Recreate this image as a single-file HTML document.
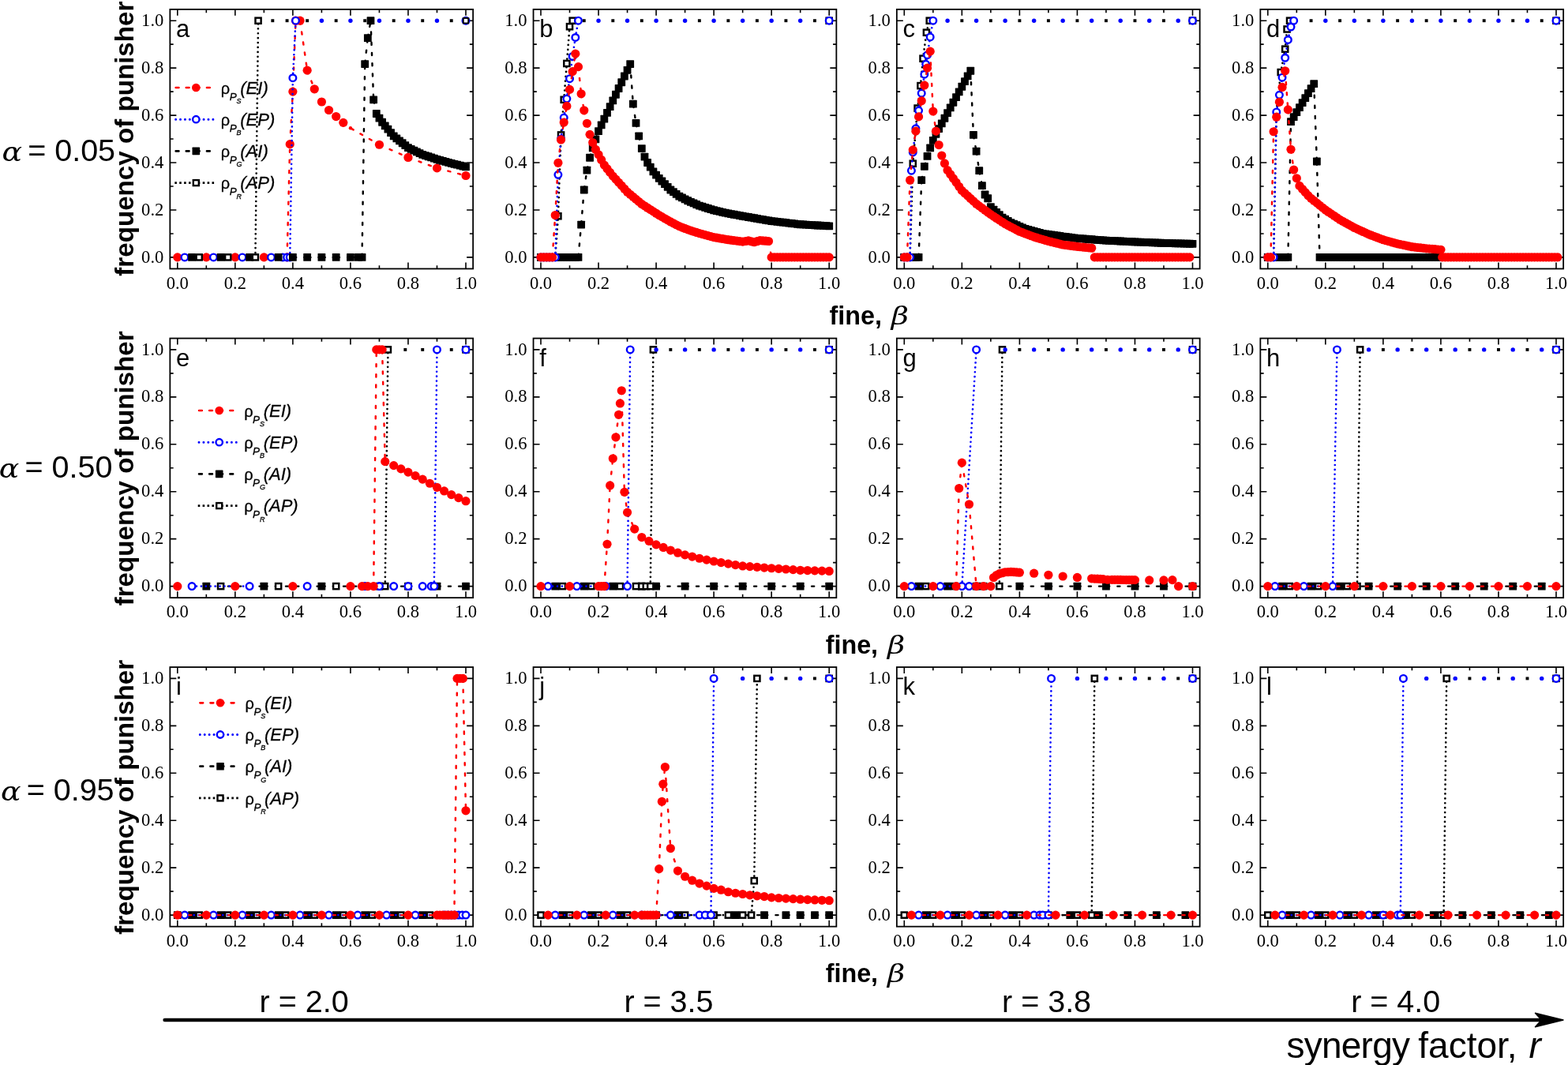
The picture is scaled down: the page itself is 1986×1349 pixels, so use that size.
<!DOCTYPE html>
<html lang="en"><head><meta charset="utf-8"><title>Frequency of punisher versus fine</title>
<style>
html,body{margin:0;padding:0;background:#fff}
body{width:1986px;height:1349px;overflow:hidden}
svg{display:block}
text{fill:#000}
.tk text{font-family:"Liberation Serif","DejaVu Serif",serif;font-size:22.6px}
.pl{font-family:"Liberation Sans","DejaVu Sans",sans-serif;font-size:31px}
.big{font-family:"Liberation Sans","DejaVu Sans",sans-serif;font-size:39.5px;white-space:pre}
.gi{font-family:"DejaVu Serif","Liberation Serif",serif;font-style:italic}
.yt{font-family:"Liberation Sans","DejaVu Sans",sans-serif;font-size:33.15px;font-weight:bold}
.xt{font-family:"Liberation Sans","DejaVu Sans",sans-serif;font-size:32.3px;font-weight:bold}
.gb{font-family:"DejaVu Serif","Liberation Serif",serif;font-style:italic;font-weight:normal;font-size:32px}
.syn{font-family:"Liberation Sans","DejaVu Sans",sans-serif;font-size:46px}
.lg{font-family:"Liberation Sans","DejaVu Sans",sans-serif;font-size:22px;stroke:#000;stroke-width:0.3px}
.lg .rho{font-size:20px}
.lg .s1{font-size:13.5px;font-style:italic}
.lg .s2{font-size:9px;font-style:italic}
.lg .it{font-style:italic}
</style></head><body>
<svg width="1986" height="1349" viewBox="0 0 1986 1349" role="img" aria-label="Frequency of punisher versus fine for twelve parameter combinations">
<rect width="1986" height="1349" fill="#fff"/>
<g id="p-a">
<path d="M224.8 11.85v8M224.8 340.45v-8M215.35 325.9h8M599.15 325.9h-8M261.32 11.85v4.3M261.32 340.45v-4.3M215.35 295.93h4.3M599.15 295.93h-4.3M297.84 11.85v8M297.84 340.45v-8M215.35 265.96h8M599.15 265.96h-8M334.36 11.85v4.3M334.36 340.45v-4.3M215.35 235.99h4.3M599.15 235.99h-4.3M370.88 11.85v8M370.88 340.45v-8M215.35 206.02h8M599.15 206.02h-8M407.4 11.85v4.3M407.4 340.45v-4.3M215.35 176.05h4.3M599.15 176.05h-4.3M443.92 11.85v8M443.92 340.45v-8M215.35 146.08h8M599.15 146.08h-8M480.44 11.85v4.3M480.44 340.45v-4.3M215.35 116.11h4.3M599.15 116.11h-4.3M516.96 11.85v8M516.96 340.45v-8M215.35 86.14h8M599.15 86.14h-8M553.48 11.85v4.3M553.48 340.45v-4.3M215.35 56.17h4.3M599.15 56.17h-4.3M590 11.85v8M590 340.45v-8M215.35 26.2h8M599.15 26.2h-8" fill="none" stroke="#000" stroke-width="1.6"/>
<rect x="215.35" y="11.85" width="383.8" height="328.6" fill="none" stroke="#000" stroke-width="1.8"/>
<path d="M363.58 325.9L367.23 182.64M367.23 182.64L370.88 116.11M370.88 116.11L374.53 26.2M380.01 26.2L389.14 89.14M389.14 89.14L398.27 112.81M398.27 112.81L407.4 129M407.4 129L416.53 139.49M416.53 139.49L425.66 147.58M425.66 147.58L434.79 155.37M434.79 155.37L443.92 162.26M443.92 162.26L480.44 183.24M480.44 183.24L516.96 199.43M516.96 199.43L553.48 212.91M553.48 212.91L590 222.5" fill="none" stroke="#ff0000" stroke-width="2.45" stroke-linecap="round" stroke-dasharray="3.1 10.1" stroke-dashoffset="-1.2"/>
<g fill="#ff0000">
<circle cx="224.8" cy="325.9" r="5.6"/>
<circle cx="261.32" cy="325.9" r="5.6"/>
<circle cx="297.84" cy="325.9" r="5.6"/>
<circle cx="334.36" cy="325.9" r="5.6"/>
<circle cx="363.58" cy="325.9" r="5.6"/>
<circle cx="367.23" cy="182.64" r="5.6"/>
<circle cx="370.88" cy="116.11" r="5.6"/>
<circle cx="374.53" cy="26.2" r="5.6"/>
<circle cx="380.01" cy="26.2" r="5.6"/>
<circle cx="389.14" cy="89.14" r="5.6"/>
<circle cx="398.27" cy="112.81" r="5.6"/>
<circle cx="407.4" cy="129" r="5.6"/>
<circle cx="416.53" cy="139.49" r="5.6"/>
<circle cx="425.66" cy="147.58" r="5.6"/>
<circle cx="434.79" cy="155.37" r="5.6"/>
<circle cx="480.44" cy="183.24" r="5.6"/>
<circle cx="516.96" cy="199.43" r="5.6"/>
<circle cx="553.48" cy="212.91" r="5.6"/>
<circle cx="590" cy="222.5" r="5.6"/>
</g>
<circle cx="443.92" cy="162.26" r="2.2" fill="#ff0000"/>
<path d="M367.23 325.9L370.88 98.73M370.88 98.73L374.53 26.2" fill="none" stroke="#0000ff" stroke-width="2.65" stroke-linecap="round" stroke-dasharray="0.01 5.9"/>
<g fill="#fff" stroke="#0000ff" stroke-width="2.4">
<circle cx="233.93" cy="325.9" r="4.3"/>
<circle cx="270.45" cy="325.9" r="4.3"/>
<circle cx="306.97" cy="325.9" r="4.3"/>
<circle cx="343.49" cy="325.9" r="4.3"/>
<circle cx="358.1" cy="325.9" r="4.3"/>
<circle cx="363.58" cy="325.9" r="4.3"/>
<circle cx="367.23" cy="325.9" r="4.3"/>
<circle cx="370.88" cy="98.73" r="4.3"/>
<circle cx="374.53" cy="26.2" r="4.3"/>
<circle cx="590" cy="26.2" r="4.3"/>
</g>
<g fill="#0000ff">
<circle cx="407.4" cy="26.2" r="2.7"/>
<circle cx="443.92" cy="26.2" r="2.7"/>
<circle cx="480.44" cy="26.2" r="2.7"/>
<circle cx="516.96" cy="26.2" r="2.7"/>
<circle cx="553.48" cy="26.2" r="2.7"/>
</g>
<path d="M370.88 325.9L389.14 325.9M389.14 325.9L407.4 325.9M407.4 325.9L425.66 325.9M425.66 325.9L443.92 325.9M443.92 325.9L453.78 325.9M453.78 325.9L458.53 325.9M458.53 325.9L462.18 81.05M462.18 81.05L465.83 48.08M465.83 48.08L469.48 26.2M469.48 26.2L473.14 126.3M473.14 126.3L476.79 143.98M476.79 143.98L480.44 149.68M480.44 149.68L484.09 154.74M484.09 154.74L487.74 159.33M487.74 159.33L491.4 163.7M491.4 163.7L495.05 168.08M495.05 168.08L498.7 172.45M498.7 172.45L502.35 175.39M502.35 175.39L506 178.33M506 178.33L509.66 181.26M509.66 181.26L513.31 184.2M513.31 184.2L516.96 187.14M516.96 187.14L520.61 188.88M520.61 188.88L524.26 190.62M524.26 190.62L527.92 192.35M527.92 192.35L531.57 194.09M531.57 194.09L535.22 195.83M535.22 195.83L538.87 197.03M538.87 197.03L542.52 198.23M542.52 198.23L546.18 199.43M546.18 199.43L549.83 200.63M549.83 200.63L553.48 201.82M553.48 201.82L557.13 202.84M557.13 202.84L560.78 203.86M560.78 203.86L564.44 204.88M564.44 204.88L568.09 205.9M568.09 205.9L571.74 206.92M571.74 206.92L575.39 207.82M575.39 207.82L579.04 208.72M579.04 208.72L582.7 209.62M582.7 209.62L586.35 210.52M586.35 210.52L590 211.41" fill="none" stroke="#000000" stroke-width="2.45" stroke-linecap="round" stroke-dasharray="3.1 10.1" stroke-dashoffset="-1.2"/>
<g fill="#000000">
<rect x="238.16" y="321" width="9.8" height="9.8" rx="0.6"/>
<rect x="274.68" y="321" width="9.8" height="9.8" rx="0.6"/>
<rect x="311.2" y="321" width="9.8" height="9.8" rx="0.6"/>
<rect x="347.72" y="321" width="9.8" height="9.8" rx="0.6"/>
<rect x="365.98" y="321" width="9.8" height="9.8" rx="0.6"/>
<rect x="384.24" y="321" width="9.8" height="9.8" rx="0.6"/>
<rect x="402.5" y="321" width="9.8" height="9.8" rx="0.6"/>
<rect x="420.76" y="321" width="9.8" height="9.8" rx="0.6"/>
<rect x="439.02" y="321" width="9.8" height="9.8" rx="0.6"/>
<rect x="448.88" y="321" width="9.8" height="9.8" rx="0.6"/>
<rect x="453.63" y="321" width="9.8" height="9.8" rx="0.6"/>
<rect x="457.28" y="76.15" width="9.8" height="9.8" rx="0.6"/>
<rect x="460.93" y="43.18" width="9.8" height="9.8" rx="0.6"/>
<rect x="464.58" y="21.3" width="9.8" height="9.8" rx="0.6"/>
<rect x="468.24" y="121.4" width="9.8" height="9.8" rx="0.6"/>
<rect x="471.89" y="139.08" width="9.8" height="9.8" rx="0.6"/>
<rect x="475.54" y="144.78" width="9.8" height="9.8" rx="0.6"/>
<rect x="479.19" y="149.84" width="9.8" height="9.8" rx="0.6"/>
<rect x="482.84" y="154.43" width="9.8" height="9.8" rx="0.6"/>
<rect x="486.5" y="158.8" width="9.8" height="9.8" rx="0.6"/>
<rect x="490.15" y="163.18" width="9.8" height="9.8" rx="0.6"/>
<rect x="493.8" y="167.55" width="9.8" height="9.8" rx="0.6"/>
<rect x="497.45" y="170.49" width="9.8" height="9.8" rx="0.6"/>
<rect x="501.1" y="173.43" width="9.8" height="9.8" rx="0.6"/>
<rect x="504.76" y="176.36" width="9.8" height="9.8" rx="0.6"/>
<rect x="508.41" y="179.3" width="9.8" height="9.8" rx="0.6"/>
<rect x="512.06" y="182.24" width="9.8" height="9.8" rx="0.6"/>
<rect x="515.71" y="183.98" width="9.8" height="9.8" rx="0.6"/>
<rect x="519.36" y="185.72" width="9.8" height="9.8" rx="0.6"/>
<rect x="523.02" y="187.45" width="9.8" height="9.8" rx="0.6"/>
<rect x="526.67" y="189.19" width="9.8" height="9.8" rx="0.6"/>
<rect x="530.32" y="190.93" width="9.8" height="9.8" rx="0.6"/>
<rect x="533.97" y="192.13" width="9.8" height="9.8" rx="0.6"/>
<rect x="537.62" y="193.33" width="9.8" height="9.8" rx="0.6"/>
<rect x="541.28" y="194.53" width="9.8" height="9.8" rx="0.6"/>
<rect x="544.93" y="195.73" width="9.8" height="9.8" rx="0.6"/>
<rect x="548.58" y="196.92" width="9.8" height="9.8" rx="0.6"/>
<rect x="552.23" y="197.94" width="9.8" height="9.8" rx="0.6"/>
<rect x="555.88" y="198.96" width="9.8" height="9.8" rx="0.6"/>
<rect x="559.54" y="199.98" width="9.8" height="9.8" rx="0.6"/>
<rect x="563.19" y="201" width="9.8" height="9.8" rx="0.6"/>
<rect x="566.84" y="202.02" width="9.8" height="9.8" rx="0.6"/>
<rect x="570.49" y="202.92" width="9.8" height="9.8" rx="0.6"/>
<rect x="574.14" y="203.82" width="9.8" height="9.8" rx="0.6"/>
<rect x="577.8" y="204.72" width="9.8" height="9.8" rx="0.6"/>
<rect x="581.45" y="205.62" width="9.8" height="9.8" rx="0.6"/>
<rect x="585.1" y="206.51" width="9.8" height="9.8" rx="0.6"/>
</g>
<path d="M323.4 325.9L327.06 26.2" fill="none" stroke="#000000" stroke-width="2.7" stroke-linecap="round" stroke-dasharray="0.01 5.9"/>
<g fill="#fff" stroke="#000000" stroke-width="2.45">
<rect x="248.62" y="322.32" width="7.15" height="7.15"/>
<rect x="285.14" y="322.32" width="7.15" height="7.15"/>
<rect x="319.83" y="322.32" width="7.15" height="7.15"/>
<rect x="323.48" y="22.62" width="7.15" height="7.15"/>
</g>
<rect x="586.75" y="22.95" width="6.5" height="6.5" fill="none" stroke="#000000" stroke-width="1.9"/>
<g fill="#000000">
<rect x="343.37" y="24.25" width="3.9" height="3.9"/>
<rect x="361.63" y="24.25" width="3.9" height="3.9"/>
<rect x="387.19" y="24.25" width="3.9" height="3.9"/>
<rect x="423.71" y="24.25" width="3.9" height="3.9"/>
<rect x="460.23" y="24.25" width="3.9" height="3.9"/>
<rect x="496.75" y="24.25" width="3.9" height="3.9"/>
<rect x="533.27" y="24.25" width="3.9" height="3.9"/>
<rect x="569.79" y="24.25" width="3.9" height="3.9"/>
</g>
<g class="tk" text-anchor="middle">
<text x="224.8" y="365.5">0.0</text>
<text x="297.84" y="365.5">0.2</text>
<text x="370.88" y="365.5">0.4</text>
<text x="443.92" y="365.5">0.6</text>
<text x="516.96" y="365.5">0.8</text>
<text x="590" y="365.5">1.0</text>
</g>
<g class="tk" text-anchor="end">
<text x="207.35" y="332.5">0.0</text>
<text x="207.35" y="272.56">0.2</text>
<text x="207.35" y="212.62">0.4</text>
<text x="207.35" y="152.68">0.6</text>
<text x="207.35" y="92.74">0.8</text>
<text x="207.35" y="32.8">1.0</text>
</g>
<text class="pl" x="222.95" y="47">a</text>
<path d="M222.7 111H268.8" fill="none" stroke="#ff0000" stroke-width="2.7" stroke-linecap="round" stroke-dasharray="3.7 9.4"/>
<circle cx="248.3" cy="111" r="5.3" fill="#ff0000"/>
<text class="lg" x="279.8" y="118.7"><tspan class="rho">ρ</tspan><tspan class="s1" x="290.7" y="126.7">P</tspan><tspan class="s2" x="299.5" y="130.9">S</tspan><tspan class="it" x="304.3" y="118.7">(EI)</tspan></text>
<path d="M222.6 151.2H272.8" fill="none" stroke="#0000ff" stroke-width="3" stroke-linecap="round" stroke-dasharray="0.01 5.9"/>
<circle cx="248.3" cy="151.2" r="4.2" fill="#fff" stroke="#0000ff" stroke-width="2.4"/>
<text class="lg" x="279.8" y="158.9"><tspan class="rho">ρ</tspan><tspan class="s1" x="290.7" y="166.9">P</tspan><tspan class="s2" x="299.5" y="171.1">B</tspan><tspan class="it" x="304.3" y="158.9">(EP)</tspan></text>
<path d="M222.7 191.4H268.8" fill="none" stroke="#000000" stroke-width="2.7" stroke-linecap="round" stroke-dasharray="3.7 9.4"/>
<rect x="243.5" y="186.6" width="9.6" height="9.6" rx="0.6" fill="#000000"/>
<text class="lg" x="279.8" y="199.1"><tspan class="rho">ρ</tspan><tspan class="s1" x="290.7" y="207.1">P</tspan><tspan class="s2" x="299.5" y="211.3">G</tspan><tspan class="it" x="304.3" y="199.1">(AI)</tspan></text>
<path d="M221.3 231.6H272.8" fill="none" stroke="#000000" stroke-width="2.6" stroke-dasharray="2.6 3.3"/>
<rect x="244.8" y="228.1" width="7" height="7" fill="#fff" stroke="#000000" stroke-width="2.4"/>
<text class="lg" x="279.8" y="239.3"><tspan class="rho">ρ</tspan><tspan class="s1" x="290.7" y="247.3">P</tspan><tspan class="s2" x="299.5" y="251.5">R</tspan><tspan class="it" x="304.3" y="239.3">(AP)</tspan></text>
</g>
<g id="p-b">
<path d="M685 11.85v8M685 340.45v-8M675.55 325.9h8M1059.35 325.9h-8M721.52 11.85v4.3M721.52 340.45v-4.3M675.55 295.93h4.3M1059.35 295.93h-4.3M758.04 11.85v8M758.04 340.45v-8M675.55 265.96h8M1059.35 265.96h-8M794.56 11.85v4.3M794.56 340.45v-4.3M675.55 235.99h4.3M1059.35 235.99h-4.3M831.08 11.85v8M831.08 340.45v-8M675.55 206.02h8M1059.35 206.02h-8M867.6 11.85v4.3M867.6 340.45v-4.3M675.55 176.05h4.3M1059.35 176.05h-4.3M904.12 11.85v8M904.12 340.45v-8M675.55 146.08h8M1059.35 146.08h-8M940.64 11.85v4.3M940.64 340.45v-4.3M675.55 116.11h4.3M1059.35 116.11h-4.3M977.16 11.85v8M977.16 340.45v-8M675.55 86.14h8M1059.35 86.14h-8M1013.68 11.85v4.3M1013.68 340.45v-4.3M675.55 56.17h4.3M1059.35 56.17h-4.3M1050.2 11.85v8M1050.2 340.45v-8M675.55 26.2h8M1059.35 26.2h-8" fill="none" stroke="#000" stroke-width="1.6"/>
<rect x="675.55" y="11.85" width="383.8" height="328.6" fill="none" stroke="#000" stroke-width="1.8"/>
<path d="M685 325.9L688.65 325.9M688.65 325.9L692.3 325.9M692.3 325.9L695.96 325.9M695.96 325.9L699.61 325.9M699.61 325.9L703.26 325.9M703.26 325.9L706.91 325.9M706.91 325.9L710.56 325.9M710.56 325.9L714.22 325.9M714.22 325.9L717.87 325.9M717.87 325.9L721.52 325.9M721.52 325.9L725.17 325.9M725.17 325.9L728.82 325.9M728.82 325.9L732.48 325.9M732.48 325.9L736.13 284.54M736.13 284.54L739.78 240.49M739.78 240.49L743.43 215.61M743.43 215.61L747.08 199.73M747.08 199.73L750.74 187.44M750.74 187.44L754.39 176.35M754.39 176.35L758.04 166.16M758.04 166.16L761.69 158.43M761.69 158.43L765.34 150.7M765.34 150.7L769 142.93M769 142.93L772.65 135.2M772.65 135.2L776.3 127.47M776.3 127.47L779.95 119.74M779.95 119.74L783.6 112M783.6 112L787.26 104.27M787.26 104.27L790.91 96.51M790.91 96.51L794.56 88.78M794.56 88.78L798.21 81.05M798.21 81.05L801.86 131.69M801.86 131.69L805.52 155.97M805.52 155.97L809.17 172.45M809.17 172.45L812.82 188.04M812.82 188.04L816.47 198.53M816.47 198.53L820.12 206.02M820.12 206.02L823.78 211.71M823.78 211.71L827.43 217.41M827.43 217.41L831.08 221.6M831.08 221.6L834.73 225.8M834.73 225.8L838.38 229.49M838.38 229.49L842.04 233.14M842.04 233.14L845.69 236.8M845.69 236.8L849.34 240.49M849.34 240.49L852.99 243.18M852.99 243.18L856.64 245.88M856.64 245.88L860.3 248.58M860.3 248.58L863.95 250.47M863.95 250.47L867.6 252.38M867.6 252.38L871.25 254.27M871.25 254.27L874.9 255.86M874.9 255.86L878.56 257.42M878.56 257.42L882.21 258.98M882.21 258.98L885.86 260.57M885.86 260.57L889.51 261.7M889.51 261.7L893.16 262.84M893.16 262.84L896.82 263.98M896.82 263.98L900.47 265.12M900.47 265.12L904.12 266.26M904.12 266.26L907.77 267.1M907.77 267.1L911.42 267.94M911.42 267.94L915.08 268.78M915.08 268.78L918.73 269.62M918.73 269.62L922.38 270.46M922.38 270.46L926.03 271.11M926.03 271.11L929.68 271.77M929.68 271.77L933.34 272.43M933.34 272.43L936.99 273.09M936.99 273.09L940.64 273.75M940.64 273.75L944.29 274.38M944.29 274.38L947.94 275.01M947.94 275.01L951.6 275.64M951.6 275.64L955.25 276.27M955.25 276.27L958.9 276.9M958.9 276.9L962.55 277.53M962.55 277.53L966.2 278.16M966.2 278.16L969.86 278.79M969.86 278.79L973.51 279.42M973.51 279.42L977.16 280.05M977.16 280.05L980.81 280.47M980.81 280.47L984.46 280.89M984.46 280.89L988.12 281.3M988.12 281.3L991.77 281.72M991.77 281.72L995.42 282.14M995.42 282.14L999.07 282.56M999.07 282.56L1002.72 282.98M1002.72 282.98L1006.38 283.4M1006.38 283.4L1010.03 283.82M1010.03 283.82L1013.68 284.24M1013.68 284.24L1017.33 284.45M1017.33 284.45L1020.98 284.66M1020.98 284.66L1024.64 284.87M1024.64 284.87L1028.29 285.08M1028.29 285.08L1031.94 285.29M1031.94 285.29L1035.59 285.5M1035.59 285.5L1039.24 285.71M1039.24 285.71L1042.9 285.92M1042.9 285.92L1046.55 286.13M1046.55 286.13L1050.2 286.34" fill="none" stroke="#000000" stroke-width="2.45" stroke-linecap="round" stroke-dasharray="3.1 10.1" stroke-dashoffset="-1.2"/>
<g fill="#000000">
<rect x="680.1" y="321" width="9.8" height="9.8" rx="0.6"/>
<rect x="683.75" y="321" width="9.8" height="9.8" rx="0.6"/>
<rect x="687.4" y="321" width="9.8" height="9.8" rx="0.6"/>
<rect x="691.06" y="321" width="9.8" height="9.8" rx="0.6"/>
<rect x="694.71" y="321" width="9.8" height="9.8" rx="0.6"/>
<rect x="698.36" y="321" width="9.8" height="9.8" rx="0.6"/>
<rect x="702.01" y="321" width="9.8" height="9.8" rx="0.6"/>
<rect x="705.66" y="321" width="9.8" height="9.8" rx="0.6"/>
<rect x="709.32" y="321" width="9.8" height="9.8" rx="0.6"/>
<rect x="712.97" y="321" width="9.8" height="9.8" rx="0.6"/>
<rect x="716.62" y="321" width="9.8" height="9.8" rx="0.6"/>
<rect x="720.27" y="321" width="9.8" height="9.8" rx="0.6"/>
<rect x="723.92" y="321" width="9.8" height="9.8" rx="0.6"/>
<rect x="727.58" y="321" width="9.8" height="9.8" rx="0.6"/>
<rect x="731.23" y="279.64" width="9.8" height="9.8" rx="0.6"/>
<rect x="734.88" y="235.59" width="9.8" height="9.8" rx="0.6"/>
<rect x="738.53" y="210.71" width="9.8" height="9.8" rx="0.6"/>
<rect x="742.18" y="194.83" width="9.8" height="9.8" rx="0.6"/>
<rect x="745.84" y="182.54" width="9.8" height="9.8" rx="0.6"/>
<rect x="749.49" y="171.45" width="9.8" height="9.8" rx="0.6"/>
<rect x="753.14" y="161.26" width="9.8" height="9.8" rx="0.6"/>
<rect x="756.79" y="153.53" width="9.8" height="9.8" rx="0.6"/>
<rect x="760.44" y="145.8" width="9.8" height="9.8" rx="0.6"/>
<rect x="764.1" y="138.03" width="9.8" height="9.8" rx="0.6"/>
<rect x="767.75" y="130.3" width="9.8" height="9.8" rx="0.6"/>
<rect x="771.4" y="122.57" width="9.8" height="9.8" rx="0.6"/>
<rect x="775.05" y="114.84" width="9.8" height="9.8" rx="0.6"/>
<rect x="778.7" y="107.1" width="9.8" height="9.8" rx="0.6"/>
<rect x="782.36" y="99.37" width="9.8" height="9.8" rx="0.6"/>
<rect x="786.01" y="91.61" width="9.8" height="9.8" rx="0.6"/>
<rect x="789.66" y="83.88" width="9.8" height="9.8" rx="0.6"/>
<rect x="793.31" y="76.15" width="9.8" height="9.8" rx="0.6"/>
<rect x="796.96" y="126.79" width="9.8" height="9.8" rx="0.6"/>
<rect x="800.62" y="151.07" width="9.8" height="9.8" rx="0.6"/>
<rect x="804.27" y="167.55" width="9.8" height="9.8" rx="0.6"/>
<rect x="807.92" y="183.14" width="9.8" height="9.8" rx="0.6"/>
<rect x="811.57" y="193.63" width="9.8" height="9.8" rx="0.6"/>
<rect x="815.22" y="201.12" width="9.8" height="9.8" rx="0.6"/>
<rect x="818.88" y="206.81" width="9.8" height="9.8" rx="0.6"/>
<rect x="822.53" y="212.51" width="9.8" height="9.8" rx="0.6"/>
<rect x="826.18" y="216.7" width="9.8" height="9.8" rx="0.6"/>
<rect x="829.83" y="220.9" width="9.8" height="9.8" rx="0.6"/>
<rect x="833.48" y="224.59" width="9.8" height="9.8" rx="0.6"/>
<rect x="837.14" y="228.24" width="9.8" height="9.8" rx="0.6"/>
<rect x="840.79" y="231.9" width="9.8" height="9.8" rx="0.6"/>
<rect x="844.44" y="235.59" width="9.8" height="9.8" rx="0.6"/>
<rect x="848.09" y="238.28" width="9.8" height="9.8" rx="0.6"/>
<rect x="851.74" y="240.98" width="9.8" height="9.8" rx="0.6"/>
<rect x="855.4" y="243.68" width="9.8" height="9.8" rx="0.6"/>
<rect x="859.05" y="245.57" width="9.8" height="9.8" rx="0.6"/>
<rect x="862.7" y="247.48" width="9.8" height="9.8" rx="0.6"/>
<rect x="866.35" y="249.37" width="9.8" height="9.8" rx="0.6"/>
<rect x="870" y="250.96" width="9.8" height="9.8" rx="0.6"/>
<rect x="873.66" y="252.52" width="9.8" height="9.8" rx="0.6"/>
<rect x="877.31" y="254.08" width="9.8" height="9.8" rx="0.6"/>
<rect x="880.96" y="255.67" width="9.8" height="9.8" rx="0.6"/>
<rect x="884.61" y="256.8" width="9.8" height="9.8" rx="0.6"/>
<rect x="888.26" y="257.94" width="9.8" height="9.8" rx="0.6"/>
<rect x="891.92" y="259.08" width="9.8" height="9.8" rx="0.6"/>
<rect x="895.57" y="260.22" width="9.8" height="9.8" rx="0.6"/>
<rect x="899.22" y="261.36" width="9.8" height="9.8" rx="0.6"/>
<rect x="902.87" y="262.2" width="9.8" height="9.8" rx="0.6"/>
<rect x="906.52" y="263.04" width="9.8" height="9.8" rx="0.6"/>
<rect x="910.18" y="263.88" width="9.8" height="9.8" rx="0.6"/>
<rect x="913.83" y="264.72" width="9.8" height="9.8" rx="0.6"/>
<rect x="917.48" y="265.56" width="9.8" height="9.8" rx="0.6"/>
<rect x="921.13" y="266.21" width="9.8" height="9.8" rx="0.6"/>
<rect x="924.78" y="266.87" width="9.8" height="9.8" rx="0.6"/>
<rect x="928.44" y="267.53" width="9.8" height="9.8" rx="0.6"/>
<rect x="932.09" y="268.19" width="9.8" height="9.8" rx="0.6"/>
<rect x="935.74" y="268.85" width="9.8" height="9.8" rx="0.6"/>
<rect x="939.39" y="269.48" width="9.8" height="9.8" rx="0.6"/>
<rect x="943.04" y="270.11" width="9.8" height="9.8" rx="0.6"/>
<rect x="946.7" y="270.74" width="9.8" height="9.8" rx="0.6"/>
<rect x="950.35" y="271.37" width="9.8" height="9.8" rx="0.6"/>
<rect x="954" y="272" width="9.8" height="9.8" rx="0.6"/>
<rect x="957.65" y="272.63" width="9.8" height="9.8" rx="0.6"/>
<rect x="961.3" y="273.26" width="9.8" height="9.8" rx="0.6"/>
<rect x="964.96" y="273.89" width="9.8" height="9.8" rx="0.6"/>
<rect x="968.61" y="274.52" width="9.8" height="9.8" rx="0.6"/>
<rect x="972.26" y="275.15" width="9.8" height="9.8" rx="0.6"/>
<rect x="975.91" y="275.57" width="9.8" height="9.8" rx="0.6"/>
<rect x="979.56" y="275.99" width="9.8" height="9.8" rx="0.6"/>
<rect x="983.22" y="276.4" width="9.8" height="9.8" rx="0.6"/>
<rect x="986.87" y="276.82" width="9.8" height="9.8" rx="0.6"/>
<rect x="990.52" y="277.24" width="9.8" height="9.8" rx="0.6"/>
<rect x="994.17" y="277.66" width="9.8" height="9.8" rx="0.6"/>
<rect x="997.82" y="278.08" width="9.8" height="9.8" rx="0.6"/>
<rect x="1001.48" y="278.5" width="9.8" height="9.8" rx="0.6"/>
<rect x="1005.13" y="278.92" width="9.8" height="9.8" rx="0.6"/>
<rect x="1008.78" y="279.34" width="9.8" height="9.8" rx="0.6"/>
<rect x="1012.43" y="279.55" width="9.8" height="9.8" rx="0.6"/>
<rect x="1016.08" y="279.76" width="9.8" height="9.8" rx="0.6"/>
<rect x="1019.74" y="279.97" width="9.8" height="9.8" rx="0.6"/>
<rect x="1023.39" y="280.18" width="9.8" height="9.8" rx="0.6"/>
<rect x="1027.04" y="280.39" width="9.8" height="9.8" rx="0.6"/>
<rect x="1030.69" y="280.6" width="9.8" height="9.8" rx="0.6"/>
<rect x="1034.34" y="280.81" width="9.8" height="9.8" rx="0.6"/>
<rect x="1038" y="281.02" width="9.8" height="9.8" rx="0.6"/>
<rect x="1041.65" y="281.23" width="9.8" height="9.8" rx="0.6"/>
<rect x="1045.3" y="281.44" width="9.8" height="9.8" rx="0.6"/>
</g>
<path d="M685 325.9L688.65 325.9M688.65 325.9L692.3 325.9M692.3 325.9L695.96 325.9M695.96 325.9L699.61 325.9M699.61 325.9L703.26 325.9M703.26 325.9L706.91 273.75M706.91 273.75L710.56 170.96M710.56 170.96L714.22 126.3M714.22 126.3L717.87 80.45M717.87 80.45L721.52 33.69M721.52 33.69L725.17 26.2" fill="none" stroke="#000000" stroke-width="2.7" stroke-linecap="round" stroke-dasharray="0.01 5.9"/>
<g fill="#fff" stroke="#000000" stroke-width="2.45">
<rect x="681.42" y="322.32" width="7.15" height="7.15"/>
<rect x="685.08" y="322.32" width="7.15" height="7.15"/>
<rect x="688.73" y="322.32" width="7.15" height="7.15"/>
<rect x="692.38" y="322.32" width="7.15" height="7.15"/>
<rect x="696.03" y="322.32" width="7.15" height="7.15"/>
<rect x="699.68" y="322.32" width="7.15" height="7.15"/>
<rect x="703.34" y="270.18" width="7.15" height="7.15"/>
<rect x="706.99" y="167.38" width="7.15" height="7.15"/>
<rect x="710.64" y="122.72" width="7.15" height="7.15"/>
<rect x="714.29" y="76.87" width="7.15" height="7.15"/>
<rect x="717.94" y="30.12" width="7.15" height="7.15"/>
<rect x="721.6" y="22.62" width="7.15" height="7.15"/>
<rect x="1046.62" y="22.62" width="7.15" height="7.15"/>
</g>
<g fill="#000000">
<rect x="737.83" y="24.25" width="3.9" height="3.9"/>
<rect x="774.35" y="24.25" width="3.9" height="3.9"/>
<rect x="810.87" y="24.25" width="3.9" height="3.9"/>
<rect x="847.39" y="24.25" width="3.9" height="3.9"/>
<rect x="883.91" y="24.25" width="3.9" height="3.9"/>
<rect x="920.43" y="24.25" width="3.9" height="3.9"/>
<rect x="956.95" y="24.25" width="3.9" height="3.9"/>
<rect x="993.47" y="24.25" width="3.9" height="3.9"/>
<rect x="1029.99" y="24.25" width="3.9" height="3.9"/>
</g>
<path d="M685 325.9L688.65 325.9M688.65 325.9L692.3 325.9M692.3 325.9L695.96 325.9M695.96 325.9L699.61 325.9M699.61 325.9L703.26 325.9M703.26 325.9L706.91 221.3M706.91 221.3L710.56 176.05M710.56 176.05L714.22 149.08M714.22 149.08L717.87 125.1M717.87 125.1L721.52 99.63M721.52 99.63L725.17 71.45M725.17 71.45L728.82 47.48M728.82 47.48L732.48 26.2" fill="none" stroke="#0000ff" stroke-width="2.65" stroke-linecap="round" stroke-dasharray="0.01 5.9"/>
<g fill="#fff" stroke="#0000ff" stroke-width="2.4">
<circle cx="685" cy="325.9" r="4.3"/>
<circle cx="688.65" cy="325.9" r="4.3"/>
<circle cx="692.3" cy="325.9" r="4.3"/>
<circle cx="695.96" cy="325.9" r="4.3"/>
<circle cx="699.61" cy="325.9" r="4.3"/>
<circle cx="703.26" cy="325.9" r="4.3"/>
<circle cx="706.91" cy="221.3" r="4.3"/>
<circle cx="710.56" cy="176.05" r="4.3"/>
<circle cx="714.22" cy="149.08" r="4.3"/>
<circle cx="717.87" cy="125.1" r="4.3"/>
<circle cx="721.52" cy="99.63" r="4.3"/>
<circle cx="725.17" cy="71.45" r="4.3"/>
<circle cx="728.82" cy="47.48" r="4.3"/>
<circle cx="732.48" cy="26.2" r="4.3"/>
<circle cx="1050.2" cy="26.2" r="4.3"/>
</g>
<g fill="#0000ff">
<circle cx="758.04" cy="26.2" r="2.7"/>
<circle cx="794.56" cy="26.2" r="2.7"/>
<circle cx="831.08" cy="26.2" r="2.7"/>
<circle cx="867.6" cy="26.2" r="2.7"/>
<circle cx="904.12" cy="26.2" r="2.7"/>
<circle cx="940.64" cy="26.2" r="2.7"/>
<circle cx="977.16" cy="26.2" r="2.7"/>
<circle cx="1013.68" cy="26.2" r="2.7"/>
</g>
<path d="M685 325.9L688.65 325.9M688.65 325.9L692.3 325.9M692.3 325.9L695.96 325.9M695.96 325.9L699.61 325.9M699.61 325.9L703.26 272.55M703.26 272.55L706.91 206.32M706.91 206.32L710.56 176.95M710.56 176.95L714.22 155.07M714.22 155.07L717.87 134.39M717.87 134.39L721.52 113.41M721.52 113.41L725.17 90.64M725.17 90.64L728.82 68.16M728.82 68.16L732.48 84.64M732.48 84.64L736.13 118.81M736.13 118.81L739.78 139.79M739.78 139.79L743.43 156.27M743.43 156.27L747.08 170.36M747.08 170.36L750.74 180.55M750.74 180.55L754.39 189.24M754.39 189.24L758.04 195.83M758.04 195.83L761.69 202.42M761.69 202.42L765.34 209.02M765.34 209.02L769 213.72M769 213.72L772.65 218.4M772.65 218.4L776.3 223.1M776.3 223.1L779.95 227.12M779.95 227.12L783.6 231.13M783.6 231.13L787.26 235.15M787.26 235.15L790.91 239.17M790.91 239.17L794.56 243.18M794.56 243.18L798.21 246.24M798.21 246.24L801.86 249.3M801.86 249.3L805.52 252.35M805.52 252.35L809.17 255.41M809.17 255.41L812.82 258.47M812.82 258.47L816.47 260.81M816.47 260.81L820.12 263.17M820.12 263.17L823.78 265.51M823.78 265.51L827.43 267.85M827.43 267.85L831.08 270.22M831.08 270.22L834.73 272.55M834.73 272.55L838.38 274.65M838.38 274.65L842.04 276.75M842.04 276.75L845.69 278.85M845.69 278.85L849.34 280.94M849.34 280.94L852.99 282.83M852.99 282.83L856.64 284.75M856.64 284.75L860.3 286.64M860.3 286.64L863.95 288.05M863.95 288.05L867.6 289.43M867.6 289.43L871.25 290.84M871.25 290.84L874.9 292.03M874.9 292.03L878.56 293.23M878.56 293.23L882.21 294.43M882.21 294.43L885.86 295.63M885.86 295.63L889.51 296.62M889.51 296.62L893.16 297.61M893.16 297.61L896.82 298.6M896.82 298.6L900.47 299.59M900.47 299.59L904.12 300.58M904.12 300.58L907.77 301.2M907.77 301.2L911.42 301.83M911.42 301.83L915.08 302.46M915.08 302.46L918.73 303.09M918.73 303.09L922.38 303.72M922.38 303.72L926.03 304.2M926.03 304.2L929.68 304.68M929.68 304.68L933.34 305.16M933.34 305.16L936.99 305.64M936.99 305.64L940.64 306.12M940.64 306.12L944.29 305.52M944.29 305.52L947.94 304.92M947.94 304.92L951.6 305.82M951.6 305.82L955.25 306.72M955.25 306.72L958.9 305.67M958.9 305.67L962.55 304.62M962.55 304.62L966.2 304.92M966.2 304.92L969.86 305.22M969.86 305.22L973.51 305.52M973.51 305.52L977.16 325.9M977.16 325.9L980.81 325.9M980.81 325.9L984.46 325.9M984.46 325.9L988.12 325.9M988.12 325.9L991.77 325.9M991.77 325.9L995.42 325.9M995.42 325.9L999.07 325.9M999.07 325.9L1002.72 325.9M1002.72 325.9L1006.38 325.9M1006.38 325.9L1010.03 325.9M1010.03 325.9L1013.68 325.9M1013.68 325.9L1017.33 325.9M1017.33 325.9L1020.98 325.9M1020.98 325.9L1024.64 325.9M1024.64 325.9L1028.29 325.9M1028.29 325.9L1031.94 325.9M1031.94 325.9L1035.59 325.9M1035.59 325.9L1039.24 325.9M1039.24 325.9L1042.9 325.9M1042.9 325.9L1046.55 325.9M1046.55 325.9L1050.2 325.9" fill="none" stroke="#ff0000" stroke-width="2.45" stroke-linecap="round" stroke-dasharray="3.1 10.1" stroke-dashoffset="-1.2"/>
<g fill="#ff0000">
<circle cx="685" cy="325.9" r="5.6"/>
<circle cx="688.65" cy="325.9" r="5.6"/>
<circle cx="692.3" cy="325.9" r="5.6"/>
<circle cx="695.96" cy="325.9" r="5.6"/>
<circle cx="699.61" cy="325.9" r="5.6"/>
<circle cx="703.26" cy="272.55" r="5.6"/>
<circle cx="706.91" cy="206.32" r="5.6"/>
<circle cx="710.56" cy="176.95" r="5.6"/>
<circle cx="714.22" cy="155.07" r="5.6"/>
<circle cx="717.87" cy="134.39" r="5.6"/>
<circle cx="721.52" cy="113.41" r="5.6"/>
<circle cx="725.17" cy="90.64" r="5.6"/>
<circle cx="728.82" cy="68.16" r="5.6"/>
<circle cx="732.48" cy="84.64" r="5.6"/>
<circle cx="736.13" cy="118.81" r="5.6"/>
<circle cx="739.78" cy="139.79" r="5.6"/>
<circle cx="743.43" cy="156.27" r="5.6"/>
<circle cx="747.08" cy="170.36" r="5.6"/>
<circle cx="750.74" cy="180.55" r="5.6"/>
<circle cx="754.39" cy="189.24" r="5.6"/>
<circle cx="758.04" cy="195.83" r="5.6"/>
<circle cx="761.69" cy="202.42" r="5.6"/>
<circle cx="765.34" cy="209.02" r="5.6"/>
<circle cx="769" cy="213.72" r="5.6"/>
<circle cx="772.65" cy="218.4" r="5.6"/>
<circle cx="776.3" cy="223.1" r="5.6"/>
<circle cx="779.95" cy="227.12" r="5.6"/>
<circle cx="783.6" cy="231.13" r="5.6"/>
<circle cx="787.26" cy="235.15" r="5.6"/>
<circle cx="790.91" cy="239.17" r="5.6"/>
<circle cx="794.56" cy="243.18" r="5.6"/>
<circle cx="798.21" cy="246.24" r="5.6"/>
<circle cx="801.86" cy="249.3" r="5.6"/>
<circle cx="805.52" cy="252.35" r="5.6"/>
<circle cx="809.17" cy="255.41" r="5.6"/>
<circle cx="812.82" cy="258.47" r="5.6"/>
<circle cx="816.47" cy="260.81" r="5.6"/>
<circle cx="820.12" cy="263.17" r="5.6"/>
<circle cx="823.78" cy="265.51" r="5.6"/>
<circle cx="827.43" cy="267.85" r="5.6"/>
<circle cx="831.08" cy="270.22" r="5.6"/>
<circle cx="834.73" cy="272.55" r="5.6"/>
<circle cx="838.38" cy="274.65" r="5.6"/>
<circle cx="842.04" cy="276.75" r="5.6"/>
<circle cx="845.69" cy="278.85" r="5.6"/>
<circle cx="849.34" cy="280.94" r="5.6"/>
<circle cx="852.99" cy="282.83" r="5.6"/>
<circle cx="856.64" cy="284.75" r="5.6"/>
<circle cx="860.3" cy="286.64" r="5.6"/>
<circle cx="863.95" cy="288.05" r="5.6"/>
<circle cx="867.6" cy="289.43" r="5.6"/>
<circle cx="871.25" cy="290.84" r="5.6"/>
<circle cx="874.9" cy="292.03" r="5.6"/>
<circle cx="878.56" cy="293.23" r="5.6"/>
<circle cx="882.21" cy="294.43" r="5.6"/>
<circle cx="885.86" cy="295.63" r="5.6"/>
<circle cx="889.51" cy="296.62" r="5.6"/>
<circle cx="893.16" cy="297.61" r="5.6"/>
<circle cx="896.82" cy="298.6" r="5.6"/>
<circle cx="900.47" cy="299.59" r="5.6"/>
<circle cx="904.12" cy="300.58" r="5.6"/>
<circle cx="907.77" cy="301.2" r="5.6"/>
<circle cx="911.42" cy="301.83" r="5.6"/>
<circle cx="915.08" cy="302.46" r="5.6"/>
<circle cx="918.73" cy="303.09" r="5.6"/>
<circle cx="922.38" cy="303.72" r="5.6"/>
<circle cx="926.03" cy="304.2" r="5.6"/>
<circle cx="929.68" cy="304.68" r="5.6"/>
<circle cx="933.34" cy="305.16" r="5.6"/>
<circle cx="936.99" cy="305.64" r="5.6"/>
<circle cx="940.64" cy="306.12" r="5.6"/>
<circle cx="944.29" cy="305.52" r="5.6"/>
<circle cx="947.94" cy="304.92" r="5.6"/>
<circle cx="951.6" cy="305.82" r="5.6"/>
<circle cx="955.25" cy="306.72" r="5.6"/>
<circle cx="958.9" cy="305.67" r="5.6"/>
<circle cx="962.55" cy="304.62" r="5.6"/>
<circle cx="966.2" cy="304.92" r="5.6"/>
<circle cx="969.86" cy="305.22" r="5.6"/>
<circle cx="973.51" cy="305.52" r="5.6"/>
<circle cx="977.16" cy="325.9" r="5.6"/>
<circle cx="980.81" cy="325.9" r="5.6"/>
<circle cx="984.46" cy="325.9" r="5.6"/>
<circle cx="988.12" cy="325.9" r="5.6"/>
<circle cx="991.77" cy="325.9" r="5.6"/>
<circle cx="995.42" cy="325.9" r="5.6"/>
<circle cx="999.07" cy="325.9" r="5.6"/>
<circle cx="1002.72" cy="325.9" r="5.6"/>
<circle cx="1006.38" cy="325.9" r="5.6"/>
<circle cx="1010.03" cy="325.9" r="5.6"/>
<circle cx="1013.68" cy="325.9" r="5.6"/>
<circle cx="1017.33" cy="325.9" r="5.6"/>
<circle cx="1020.98" cy="325.9" r="5.6"/>
<circle cx="1024.64" cy="325.9" r="5.6"/>
<circle cx="1028.29" cy="325.9" r="5.6"/>
<circle cx="1031.94" cy="325.9" r="5.6"/>
<circle cx="1035.59" cy="325.9" r="5.6"/>
<circle cx="1039.24" cy="325.9" r="5.6"/>
<circle cx="1042.9" cy="325.9" r="5.6"/>
<circle cx="1046.55" cy="325.9" r="5.6"/>
<circle cx="1050.2" cy="325.9" r="5.6"/>
</g>
<g class="tk" text-anchor="middle">
<text x="685" y="365.5">0.0</text>
<text x="758.04" y="365.5">0.2</text>
<text x="831.08" y="365.5">0.4</text>
<text x="904.12" y="365.5">0.6</text>
<text x="977.16" y="365.5">0.8</text>
<text x="1050.2" y="365.5">1.0</text>
</g>
<g class="tk" text-anchor="end">
<text x="667.55" y="332.5">0.0</text>
<text x="667.55" y="272.56">0.2</text>
<text x="667.55" y="212.62">0.4</text>
<text x="667.55" y="152.68">0.6</text>
<text x="667.55" y="92.74">0.8</text>
<text x="667.55" y="32.8">1.0</text>
</g>
<text class="pl" x="683.15" y="47">b</text>
</g>
<g id="p-c">
<path d="M1145.3 11.85v8M1145.3 340.45v-8M1135.85 325.9h8M1519.65 325.9h-8M1181.82 11.85v4.3M1181.82 340.45v-4.3M1135.85 295.93h4.3M1519.65 295.93h-4.3M1218.34 11.85v8M1218.34 340.45v-8M1135.85 265.96h8M1519.65 265.96h-8M1254.86 11.85v4.3M1254.86 340.45v-4.3M1135.85 235.99h4.3M1519.65 235.99h-4.3M1291.38 11.85v8M1291.38 340.45v-8M1135.85 206.02h8M1519.65 206.02h-8M1327.9 11.85v4.3M1327.9 340.45v-4.3M1135.85 176.05h4.3M1519.65 176.05h-4.3M1364.42 11.85v8M1364.42 340.45v-8M1135.85 146.08h8M1519.65 146.08h-8M1400.94 11.85v4.3M1400.94 340.45v-4.3M1135.85 116.11h4.3M1519.65 116.11h-4.3M1437.46 11.85v8M1437.46 340.45v-8M1135.85 86.14h8M1519.65 86.14h-8M1473.98 11.85v4.3M1473.98 340.45v-4.3M1135.85 56.17h4.3M1519.65 56.17h-4.3M1510.5 11.85v8M1510.5 340.45v-8M1135.85 26.2h8M1519.65 26.2h-8" fill="none" stroke="#000" stroke-width="1.6"/>
<rect x="1135.85" y="11.85" width="383.8" height="328.6" fill="none" stroke="#000" stroke-width="1.8"/>
<path d="M1145.3 325.9L1148.95 325.9M1148.95 325.9L1152.6 325.9M1152.6 325.9L1156.26 325.9M1156.26 325.9L1159.91 325.9M1159.91 325.9L1163.56 325.9M1163.56 325.9L1167.21 228.2M1167.21 228.2L1170.86 210.82M1170.86 210.82L1174.52 197.93M1174.52 197.93L1178.17 187.44M1178.17 187.44L1181.82 177.85M1181.82 177.85L1185.47 169.76M1185.47 169.76L1189.12 163.07M1189.12 163.07L1192.78 156.42M1192.78 156.42L1196.43 149.77M1196.43 149.77L1200.08 143.08M1200.08 143.08L1203.73 136.43M1203.73 136.43L1207.38 129.75M1207.38 129.75L1211.04 123.09M1211.04 123.09L1214.69 116.41M1214.69 116.41L1218.34 109.76M1218.34 109.76L1221.99 103.07M1221.99 103.07L1225.64 96.39M1225.64 96.39L1229.3 89.74M1229.3 89.74L1232.95 170.96M1232.95 170.96L1236.6 191.63M1236.6 191.63L1240.25 216.21M1240.25 216.21L1243.9 235.09M1243.9 235.09L1247.56 246.48M1247.56 246.48L1251.21 251.27M1251.21 251.27L1254.86 262.06M1254.86 262.06L1258.51 265.66M1258.51 265.66L1262.16 268.96M1262.16 268.96L1265.82 272.25M1265.82 272.25L1269.47 275.55M1269.47 275.55L1273.12 277.74M1273.12 277.74L1276.77 279.96M1276.77 279.96L1280.42 282.14M1280.42 282.14L1284.08 283.7M1284.08 283.7L1287.73 285.26M1287.73 285.26L1291.38 286.82M1291.38 286.82L1295.03 288.38M1295.03 288.38L1298.68 289.94M1298.68 289.94L1302.34 290.93M1302.34 290.93L1305.99 291.94M1305.99 291.94L1309.64 292.93M1309.64 292.93L1313.29 293.92M1313.29 293.92L1316.94 294.94M1316.94 294.94L1320.6 295.93M1320.6 295.93L1324.25 296.44M1324.25 296.44L1327.9 296.95M1327.9 296.95L1331.55 297.46M1331.55 297.46L1335.2 298M1335.2 298L1338.86 298.51M1338.86 298.51L1342.51 299.02M1342.51 299.02L1346.16 299.53M1346.16 299.53L1349.81 300.01M1349.81 300.01L1353.46 300.49M1353.46 300.49L1357.12 300.96M1357.12 300.96L1360.77 301.44M1360.77 301.44L1364.42 301.92M1364.42 301.92L1368.07 302.19M1368.07 302.19L1371.72 302.46M1371.72 302.46L1375.38 302.73M1375.38 302.73L1379.03 303M1379.03 303L1382.68 303.27M1382.68 303.27L1386.33 303.54M1386.33 303.54L1389.98 303.81M1389.98 303.81L1393.64 304.08M1393.64 304.08L1397.29 304.35M1397.29 304.35L1400.94 304.62M1400.94 304.62L1404.59 304.8M1404.59 304.8L1408.24 304.98M1408.24 304.98L1411.9 305.16M1411.9 305.16L1415.55 305.34M1415.55 305.34L1419.2 305.52M1419.2 305.52L1422.85 305.7M1422.85 305.7L1426.5 305.88M1426.5 305.88L1430.16 306.06M1430.16 306.06L1433.81 306.24M1433.81 306.24L1437.46 306.42M1437.46 306.42L1441.11 306.57M1441.11 306.57L1444.76 306.72M1444.76 306.72L1448.42 306.87M1448.42 306.87L1452.07 307.02M1452.07 307.02L1455.72 307.17M1455.72 307.17L1459.37 307.32M1459.37 307.32L1463.02 307.47M1463.02 307.47L1466.68 307.62M1466.68 307.62L1470.33 307.77M1470.33 307.77L1473.98 307.92M1473.98 307.92L1477.63 308.01M1477.63 308.01L1481.28 308.1M1481.28 308.1L1484.94 308.19M1484.94 308.19L1488.59 308.28M1488.59 308.28L1492.24 308.37M1492.24 308.37L1495.89 308.46M1495.89 308.46L1499.54 308.55M1499.54 308.55L1503.2 308.64M1503.2 308.64L1506.85 308.73M1506.85 308.73L1510.5 308.82" fill="none" stroke="#000000" stroke-width="2.45" stroke-linecap="round" stroke-dasharray="3.1 10.1" stroke-dashoffset="-1.2"/>
<g fill="#000000">
<rect x="1140.4" y="321" width="9.8" height="9.8" rx="0.6"/>
<rect x="1144.05" y="321" width="9.8" height="9.8" rx="0.6"/>
<rect x="1147.7" y="321" width="9.8" height="9.8" rx="0.6"/>
<rect x="1151.36" y="321" width="9.8" height="9.8" rx="0.6"/>
<rect x="1155.01" y="321" width="9.8" height="9.8" rx="0.6"/>
<rect x="1158.66" y="321" width="9.8" height="9.8" rx="0.6"/>
<rect x="1162.31" y="223.3" width="9.8" height="9.8" rx="0.6"/>
<rect x="1165.96" y="205.92" width="9.8" height="9.8" rx="0.6"/>
<rect x="1169.62" y="193.03" width="9.8" height="9.8" rx="0.6"/>
<rect x="1173.27" y="182.54" width="9.8" height="9.8" rx="0.6"/>
<rect x="1176.92" y="172.95" width="9.8" height="9.8" rx="0.6"/>
<rect x="1180.57" y="164.86" width="9.8" height="9.8" rx="0.6"/>
<rect x="1184.22" y="158.17" width="9.8" height="9.8" rx="0.6"/>
<rect x="1187.88" y="151.52" width="9.8" height="9.8" rx="0.6"/>
<rect x="1191.53" y="144.87" width="9.8" height="9.8" rx="0.6"/>
<rect x="1195.18" y="138.18" width="9.8" height="9.8" rx="0.6"/>
<rect x="1198.83" y="131.53" width="9.8" height="9.8" rx="0.6"/>
<rect x="1202.48" y="124.85" width="9.8" height="9.8" rx="0.6"/>
<rect x="1206.14" y="118.19" width="9.8" height="9.8" rx="0.6"/>
<rect x="1209.79" y="111.51" width="9.8" height="9.8" rx="0.6"/>
<rect x="1213.44" y="104.86" width="9.8" height="9.8" rx="0.6"/>
<rect x="1217.09" y="98.17" width="9.8" height="9.8" rx="0.6"/>
<rect x="1220.74" y="91.49" width="9.8" height="9.8" rx="0.6"/>
<rect x="1224.4" y="84.84" width="9.8" height="9.8" rx="0.6"/>
<rect x="1228.05" y="166.06" width="9.8" height="9.8" rx="0.6"/>
<rect x="1231.7" y="186.73" width="9.8" height="9.8" rx="0.6"/>
<rect x="1235.35" y="211.31" width="9.8" height="9.8" rx="0.6"/>
<rect x="1239" y="230.19" width="9.8" height="9.8" rx="0.6"/>
<rect x="1242.66" y="241.58" width="9.8" height="9.8" rx="0.6"/>
<rect x="1246.31" y="246.37" width="9.8" height="9.8" rx="0.6"/>
<rect x="1249.96" y="257.16" width="9.8" height="9.8" rx="0.6"/>
<rect x="1253.61" y="260.76" width="9.8" height="9.8" rx="0.6"/>
<rect x="1257.26" y="264.06" width="9.8" height="9.8" rx="0.6"/>
<rect x="1260.92" y="267.35" width="9.8" height="9.8" rx="0.6"/>
<rect x="1264.57" y="270.65" width="9.8" height="9.8" rx="0.6"/>
<rect x="1268.22" y="272.84" width="9.8" height="9.8" rx="0.6"/>
<rect x="1271.87" y="275.06" width="9.8" height="9.8" rx="0.6"/>
<rect x="1275.52" y="277.24" width="9.8" height="9.8" rx="0.6"/>
<rect x="1279.18" y="278.8" width="9.8" height="9.8" rx="0.6"/>
<rect x="1282.83" y="280.36" width="9.8" height="9.8" rx="0.6"/>
<rect x="1286.48" y="281.92" width="9.8" height="9.8" rx="0.6"/>
<rect x="1290.13" y="283.48" width="9.8" height="9.8" rx="0.6"/>
<rect x="1293.78" y="285.04" width="9.8" height="9.8" rx="0.6"/>
<rect x="1297.44" y="286.03" width="9.8" height="9.8" rx="0.6"/>
<rect x="1301.09" y="287.04" width="9.8" height="9.8" rx="0.6"/>
<rect x="1304.74" y="288.03" width="9.8" height="9.8" rx="0.6"/>
<rect x="1308.39" y="289.02" width="9.8" height="9.8" rx="0.6"/>
<rect x="1312.04" y="290.04" width="9.8" height="9.8" rx="0.6"/>
<rect x="1315.7" y="291.03" width="9.8" height="9.8" rx="0.6"/>
<rect x="1319.35" y="291.54" width="9.8" height="9.8" rx="0.6"/>
<rect x="1323" y="292.05" width="9.8" height="9.8" rx="0.6"/>
<rect x="1326.65" y="292.56" width="9.8" height="9.8" rx="0.6"/>
<rect x="1330.3" y="293.1" width="9.8" height="9.8" rx="0.6"/>
<rect x="1333.96" y="293.61" width="9.8" height="9.8" rx="0.6"/>
<rect x="1337.61" y="294.12" width="9.8" height="9.8" rx="0.6"/>
<rect x="1341.26" y="294.63" width="9.8" height="9.8" rx="0.6"/>
<rect x="1344.91" y="295.11" width="9.8" height="9.8" rx="0.6"/>
<rect x="1348.56" y="295.59" width="9.8" height="9.8" rx="0.6"/>
<rect x="1352.22" y="296.06" width="9.8" height="9.8" rx="0.6"/>
<rect x="1355.87" y="296.54" width="9.8" height="9.8" rx="0.6"/>
<rect x="1359.52" y="297.02" width="9.8" height="9.8" rx="0.6"/>
<rect x="1363.17" y="297.29" width="9.8" height="9.8" rx="0.6"/>
<rect x="1366.82" y="297.56" width="9.8" height="9.8" rx="0.6"/>
<rect x="1370.48" y="297.83" width="9.8" height="9.8" rx="0.6"/>
<rect x="1374.13" y="298.1" width="9.8" height="9.8" rx="0.6"/>
<rect x="1377.78" y="298.37" width="9.8" height="9.8" rx="0.6"/>
<rect x="1381.43" y="298.64" width="9.8" height="9.8" rx="0.6"/>
<rect x="1385.08" y="298.91" width="9.8" height="9.8" rx="0.6"/>
<rect x="1388.74" y="299.18" width="9.8" height="9.8" rx="0.6"/>
<rect x="1392.39" y="299.45" width="9.8" height="9.8" rx="0.6"/>
<rect x="1396.04" y="299.72" width="9.8" height="9.8" rx="0.6"/>
<rect x="1399.69" y="299.9" width="9.8" height="9.8" rx="0.6"/>
<rect x="1403.34" y="300.08" width="9.8" height="9.8" rx="0.6"/>
<rect x="1407" y="300.26" width="9.8" height="9.8" rx="0.6"/>
<rect x="1410.65" y="300.44" width="9.8" height="9.8" rx="0.6"/>
<rect x="1414.3" y="300.62" width="9.8" height="9.8" rx="0.6"/>
<rect x="1417.95" y="300.8" width="9.8" height="9.8" rx="0.6"/>
<rect x="1421.6" y="300.98" width="9.8" height="9.8" rx="0.6"/>
<rect x="1425.26" y="301.16" width="9.8" height="9.8" rx="0.6"/>
<rect x="1428.91" y="301.34" width="9.8" height="9.8" rx="0.6"/>
<rect x="1432.56" y="301.52" width="9.8" height="9.8" rx="0.6"/>
<rect x="1436.21" y="301.67" width="9.8" height="9.8" rx="0.6"/>
<rect x="1439.86" y="301.82" width="9.8" height="9.8" rx="0.6"/>
<rect x="1443.52" y="301.97" width="9.8" height="9.8" rx="0.6"/>
<rect x="1447.17" y="302.12" width="9.8" height="9.8" rx="0.6"/>
<rect x="1450.82" y="302.27" width="9.8" height="9.8" rx="0.6"/>
<rect x="1454.47" y="302.42" width="9.8" height="9.8" rx="0.6"/>
<rect x="1458.12" y="302.57" width="9.8" height="9.8" rx="0.6"/>
<rect x="1461.78" y="302.72" width="9.8" height="9.8" rx="0.6"/>
<rect x="1465.43" y="302.87" width="9.8" height="9.8" rx="0.6"/>
<rect x="1469.08" y="303.02" width="9.8" height="9.8" rx="0.6"/>
<rect x="1472.73" y="303.11" width="9.8" height="9.8" rx="0.6"/>
<rect x="1476.38" y="303.2" width="9.8" height="9.8" rx="0.6"/>
<rect x="1480.04" y="303.29" width="9.8" height="9.8" rx="0.6"/>
<rect x="1483.69" y="303.38" width="9.8" height="9.8" rx="0.6"/>
<rect x="1487.34" y="303.47" width="9.8" height="9.8" rx="0.6"/>
<rect x="1490.99" y="303.56" width="9.8" height="9.8" rx="0.6"/>
<rect x="1494.64" y="303.65" width="9.8" height="9.8" rx="0.6"/>
<rect x="1498.3" y="303.74" width="9.8" height="9.8" rx="0.6"/>
<rect x="1501.95" y="303.83" width="9.8" height="9.8" rx="0.6"/>
<rect x="1505.6" y="303.92" width="9.8" height="9.8" rx="0.6"/>
</g>
<path d="M1145.3 325.9L1148.95 325.9M1148.95 325.9L1152.6 325.9M1152.6 325.9L1156.26 207.22M1156.26 207.22L1162.1 137.09M1162.1 137.09L1165.93 108.62M1165.93 108.62L1169.04 74.15M1169.04 74.15L1173.42 41.19M1173.42 41.19L1177.25 26.2" fill="none" stroke="#000000" stroke-width="2.7" stroke-linecap="round" stroke-dasharray="0.01 5.9"/>
<g fill="#fff" stroke="#000000" stroke-width="2.45">
<rect x="1141.72" y="322.32" width="7.15" height="7.15"/>
<rect x="1145.38" y="322.32" width="7.15" height="7.15"/>
<rect x="1149.03" y="322.32" width="7.15" height="7.15"/>
<rect x="1152.68" y="203.64" width="7.15" height="7.15"/>
<rect x="1158.52" y="133.51" width="7.15" height="7.15"/>
<rect x="1162.36" y="105.04" width="7.15" height="7.15"/>
<rect x="1165.46" y="70.58" width="7.15" height="7.15"/>
<rect x="1169.85" y="37.61" width="7.15" height="7.15"/>
<rect x="1173.68" y="22.62" width="7.15" height="7.15"/>
<rect x="1506.92" y="22.62" width="7.15" height="7.15"/>
</g>
<g fill="#000000">
<rect x="1216.39" y="24.25" width="3.9" height="3.9"/>
<rect x="1252.91" y="24.25" width="3.9" height="3.9"/>
<rect x="1289.43" y="24.25" width="3.9" height="3.9"/>
<rect x="1325.95" y="24.25" width="3.9" height="3.9"/>
<rect x="1362.47" y="24.25" width="3.9" height="3.9"/>
<rect x="1398.99" y="24.25" width="3.9" height="3.9"/>
<rect x="1435.51" y="24.25" width="3.9" height="3.9"/>
<rect x="1472.03" y="24.25" width="3.9" height="3.9"/>
</g>
<path d="M1145.3 325.9L1148.95 325.9M1148.95 325.9L1152.6 325.9M1152.6 325.9L1154.43 216.21M1154.43 216.21L1156.26 192.83M1156.26 192.83L1159.91 162.86M1159.91 162.86L1163.56 140.09M1163.56 140.09L1167.21 118.21M1167.21 118.21L1170.86 94.23M1170.86 94.23L1172.69 81.34M1172.69 81.34L1174.52 69.66M1174.52 69.66L1178.17 46.88M1178.17 46.88L1181.82 26.2" fill="none" stroke="#0000ff" stroke-width="2.65" stroke-linecap="round" stroke-dasharray="0.01 5.9"/>
<g fill="#fff" stroke="#0000ff" stroke-width="2.4">
<circle cx="1145.3" cy="325.9" r="4.3"/>
<circle cx="1148.95" cy="325.9" r="4.3"/>
<circle cx="1152.6" cy="325.9" r="4.3"/>
<circle cx="1154.43" cy="216.21" r="4.3"/>
<circle cx="1156.26" cy="192.83" r="4.3"/>
<circle cx="1159.91" cy="162.86" r="4.3"/>
<circle cx="1163.56" cy="140.09" r="4.3"/>
<circle cx="1167.21" cy="118.21" r="4.3"/>
<circle cx="1170.86" cy="94.23" r="4.3"/>
<circle cx="1172.69" cy="81.34" r="4.3"/>
<circle cx="1174.52" cy="69.66" r="4.3"/>
<circle cx="1178.17" cy="46.88" r="4.3"/>
<circle cx="1181.82" cy="26.2" r="4.3"/>
<circle cx="1510.5" cy="26.2" r="4.3"/>
</g>
<g fill="#0000ff">
<circle cx="1200.08" cy="26.2" r="2.7"/>
<circle cx="1236.6" cy="26.2" r="2.7"/>
<circle cx="1273.12" cy="26.2" r="2.7"/>
<circle cx="1309.64" cy="26.2" r="2.7"/>
<circle cx="1346.16" cy="26.2" r="2.7"/>
<circle cx="1382.68" cy="26.2" r="2.7"/>
<circle cx="1419.2" cy="26.2" r="2.7"/>
<circle cx="1455.72" cy="26.2" r="2.7"/>
<circle cx="1492.24" cy="26.2" r="2.7"/>
</g>
<path d="M1145.3 325.9L1148.95 325.9M1148.95 325.9L1152.6 228.2M1152.6 228.2L1156.26 189.84M1156.26 189.84L1159.91 166.16M1159.91 166.16L1163.56 147.88M1163.56 147.88L1167.21 127.8M1167.21 127.8L1170.86 108.02M1170.86 108.02L1174.52 86.14M1174.52 86.14L1178.17 65.16M1178.17 65.16L1181.82 140.99M1181.82 140.99L1185.47 166.16M1185.47 166.16L1189.12 183.54M1189.12 183.54L1192.78 197.03M1192.78 197.03L1196.43 206.92M1196.43 206.92L1200.08 215.61M1200.08 215.61L1203.73 220.77M1203.73 220.77L1207.38 225.92M1207.38 225.92L1211.04 231.07M1211.04 231.07L1214.69 236.23M1214.69 236.23L1218.34 241.38M1218.34 241.38L1221.99 244.74M1221.99 244.74L1225.64 248.1M1225.64 248.1L1229.3 251.45M1229.3 251.45L1232.95 254.81M1232.95 254.81L1236.6 258.17M1236.6 258.17L1240.25 260.87M1240.25 260.87L1243.9 263.56M1243.9 263.56L1247.56 266.26M1247.56 266.26L1251.21 268.96M1251.21 268.96L1254.86 271.65M1254.86 271.65L1258.51 274.05M1258.51 274.05L1262.16 276.45M1262.16 276.45L1265.82 278.85M1265.82 278.85L1269.47 281.24M1269.47 281.24L1273.12 283.64M1273.12 283.64L1276.77 285.56M1276.77 285.56L1280.42 287.48M1280.42 287.48L1284.08 289.4M1284.08 289.4L1287.73 291.31M1287.73 291.31L1291.38 293.23M1291.38 293.23L1295.03 294.61M1295.03 294.61L1298.68 295.99M1298.68 295.99L1302.34 297.37M1302.34 297.37L1305.99 298.75M1305.99 298.75L1309.64 300.13M1309.64 300.13L1313.29 301.2M1313.29 301.2L1316.94 302.28M1316.94 302.28L1320.6 303.36M1320.6 303.36L1324.25 304.44M1324.25 304.44L1327.9 305.52M1327.9 305.52L1331.55 306.42M1331.55 306.42L1335.2 307.32M1335.2 307.32L1338.86 308.22M1338.86 308.22L1342.51 309.12M1342.51 309.12L1346.16 310.02M1346.16 310.02L1349.81 310.5M1349.81 310.5L1353.46 310.97M1353.46 310.97L1357.12 311.45M1357.12 311.45L1360.77 311.93M1360.77 311.93L1364.42 312.41M1364.42 312.41L1368.07 312.77M1368.07 312.77L1371.72 313.13M1371.72 313.13L1375.38 313.49M1375.38 313.49L1379.03 313.85M1379.03 313.85L1382.68 314.21M1382.68 314.21L1386.33 325.9M1386.33 325.9L1389.98 325.9M1389.98 325.9L1393.64 325.9M1393.64 325.9L1397.29 325.9M1397.29 325.9L1400.94 325.9M1400.94 325.9L1404.59 325.9M1404.59 325.9L1408.24 325.9M1408.24 325.9L1411.9 325.9M1411.9 325.9L1415.55 325.9M1415.55 325.9L1419.2 325.9M1419.2 325.9L1422.85 325.9M1422.85 325.9L1426.5 325.9M1426.5 325.9L1430.16 325.9M1430.16 325.9L1433.81 325.9M1433.81 325.9L1437.46 325.9M1437.46 325.9L1441.11 325.9M1441.11 325.9L1444.76 325.9M1444.76 325.9L1448.42 325.9M1448.42 325.9L1452.07 325.9M1452.07 325.9L1455.72 325.9M1455.72 325.9L1459.37 325.9M1459.37 325.9L1463.02 325.9M1463.02 325.9L1466.68 325.9M1466.68 325.9L1470.33 325.9M1470.33 325.9L1473.98 325.9M1473.98 325.9L1477.63 325.9M1477.63 325.9L1481.28 325.9M1481.28 325.9L1484.94 325.9M1484.94 325.9L1488.59 325.9M1488.59 325.9L1492.24 325.9M1492.24 325.9L1495.89 325.9M1495.89 325.9L1499.54 325.9M1499.54 325.9L1503.2 325.9M1503.2 325.9L1506.85 325.9" fill="none" stroke="#ff0000" stroke-width="2.45" stroke-linecap="round" stroke-dasharray="3.1 10.1" stroke-dashoffset="-1.2"/>
<g fill="#ff0000">
<circle cx="1145.3" cy="325.9" r="5.6"/>
<circle cx="1148.95" cy="325.9" r="5.6"/>
<circle cx="1152.6" cy="228.2" r="5.6"/>
<circle cx="1156.26" cy="189.84" r="5.6"/>
<circle cx="1159.91" cy="166.16" r="5.6"/>
<circle cx="1163.56" cy="147.88" r="5.6"/>
<circle cx="1167.21" cy="127.8" r="5.6"/>
<circle cx="1170.86" cy="108.02" r="5.6"/>
<circle cx="1174.52" cy="86.14" r="5.6"/>
<circle cx="1178.17" cy="65.16" r="5.6"/>
<circle cx="1181.82" cy="140.99" r="5.6"/>
<circle cx="1185.47" cy="166.16" r="5.6"/>
<circle cx="1189.12" cy="183.54" r="5.6"/>
<circle cx="1192.78" cy="197.03" r="5.6"/>
<circle cx="1196.43" cy="206.92" r="5.6"/>
<circle cx="1200.08" cy="215.61" r="5.6"/>
<circle cx="1203.73" cy="220.77" r="5.6"/>
<circle cx="1207.38" cy="225.92" r="5.6"/>
<circle cx="1211.04" cy="231.07" r="5.6"/>
<circle cx="1214.69" cy="236.23" r="5.6"/>
<circle cx="1218.34" cy="241.38" r="5.6"/>
<circle cx="1221.99" cy="244.74" r="5.6"/>
<circle cx="1225.64" cy="248.1" r="5.6"/>
<circle cx="1229.3" cy="251.45" r="5.6"/>
<circle cx="1232.95" cy="254.81" r="5.6"/>
<circle cx="1236.6" cy="258.17" r="5.6"/>
<circle cx="1240.25" cy="260.87" r="5.6"/>
<circle cx="1243.9" cy="263.56" r="5.6"/>
<circle cx="1247.56" cy="266.26" r="5.6"/>
<circle cx="1251.21" cy="268.96" r="5.6"/>
<circle cx="1254.86" cy="271.65" r="5.6"/>
<circle cx="1258.51" cy="274.05" r="5.6"/>
<circle cx="1262.16" cy="276.45" r="5.6"/>
<circle cx="1265.82" cy="278.85" r="5.6"/>
<circle cx="1269.47" cy="281.24" r="5.6"/>
<circle cx="1273.12" cy="283.64" r="5.6"/>
<circle cx="1276.77" cy="285.56" r="5.6"/>
<circle cx="1280.42" cy="287.48" r="5.6"/>
<circle cx="1284.08" cy="289.4" r="5.6"/>
<circle cx="1287.73" cy="291.31" r="5.6"/>
<circle cx="1291.38" cy="293.23" r="5.6"/>
<circle cx="1295.03" cy="294.61" r="5.6"/>
<circle cx="1298.68" cy="295.99" r="5.6"/>
<circle cx="1302.34" cy="297.37" r="5.6"/>
<circle cx="1305.99" cy="298.75" r="5.6"/>
<circle cx="1309.64" cy="300.13" r="5.6"/>
<circle cx="1313.29" cy="301.2" r="5.6"/>
<circle cx="1316.94" cy="302.28" r="5.6"/>
<circle cx="1320.6" cy="303.36" r="5.6"/>
<circle cx="1324.25" cy="304.44" r="5.6"/>
<circle cx="1327.9" cy="305.52" r="5.6"/>
<circle cx="1331.55" cy="306.42" r="5.6"/>
<circle cx="1335.2" cy="307.32" r="5.6"/>
<circle cx="1338.86" cy="308.22" r="5.6"/>
<circle cx="1342.51" cy="309.12" r="5.6"/>
<circle cx="1346.16" cy="310.02" r="5.6"/>
<circle cx="1349.81" cy="310.5" r="5.6"/>
<circle cx="1353.46" cy="310.97" r="5.6"/>
<circle cx="1357.12" cy="311.45" r="5.6"/>
<circle cx="1360.77" cy="311.93" r="5.6"/>
<circle cx="1364.42" cy="312.41" r="5.6"/>
<circle cx="1368.07" cy="312.77" r="5.6"/>
<circle cx="1371.72" cy="313.13" r="5.6"/>
<circle cx="1375.38" cy="313.49" r="5.6"/>
<circle cx="1379.03" cy="313.85" r="5.6"/>
<circle cx="1382.68" cy="314.21" r="5.6"/>
<circle cx="1386.33" cy="325.9" r="5.6"/>
<circle cx="1389.98" cy="325.9" r="5.6"/>
<circle cx="1393.64" cy="325.9" r="5.6"/>
<circle cx="1397.29" cy="325.9" r="5.6"/>
<circle cx="1400.94" cy="325.9" r="5.6"/>
<circle cx="1404.59" cy="325.9" r="5.6"/>
<circle cx="1408.24" cy="325.9" r="5.6"/>
<circle cx="1411.9" cy="325.9" r="5.6"/>
<circle cx="1415.55" cy="325.9" r="5.6"/>
<circle cx="1419.2" cy="325.9" r="5.6"/>
<circle cx="1422.85" cy="325.9" r="5.6"/>
<circle cx="1426.5" cy="325.9" r="5.6"/>
<circle cx="1430.16" cy="325.9" r="5.6"/>
<circle cx="1433.81" cy="325.9" r="5.6"/>
<circle cx="1437.46" cy="325.9" r="5.6"/>
<circle cx="1441.11" cy="325.9" r="5.6"/>
<circle cx="1444.76" cy="325.9" r="5.6"/>
<circle cx="1448.42" cy="325.9" r="5.6"/>
<circle cx="1452.07" cy="325.9" r="5.6"/>
<circle cx="1455.72" cy="325.9" r="5.6"/>
<circle cx="1459.37" cy="325.9" r="5.6"/>
<circle cx="1463.02" cy="325.9" r="5.6"/>
<circle cx="1466.68" cy="325.9" r="5.6"/>
<circle cx="1470.33" cy="325.9" r="5.6"/>
<circle cx="1473.98" cy="325.9" r="5.6"/>
<circle cx="1477.63" cy="325.9" r="5.6"/>
<circle cx="1481.28" cy="325.9" r="5.6"/>
<circle cx="1484.94" cy="325.9" r="5.6"/>
<circle cx="1488.59" cy="325.9" r="5.6"/>
<circle cx="1492.24" cy="325.9" r="5.6"/>
<circle cx="1495.89" cy="325.9" r="5.6"/>
<circle cx="1499.54" cy="325.9" r="5.6"/>
<circle cx="1503.2" cy="325.9" r="5.6"/>
<circle cx="1506.85" cy="325.9" r="5.6"/>
</g>
<g class="tk" text-anchor="middle">
<text x="1145.3" y="365.5">0.0</text>
<text x="1218.34" y="365.5">0.2</text>
<text x="1291.38" y="365.5">0.4</text>
<text x="1364.42" y="365.5">0.6</text>
<text x="1437.46" y="365.5">0.8</text>
<text x="1510.5" y="365.5">1.0</text>
</g>
<g class="tk" text-anchor="end">
<text x="1127.85" y="332.5">0.0</text>
<text x="1127.85" y="272.56">0.2</text>
<text x="1127.85" y="212.62">0.4</text>
<text x="1127.85" y="152.68">0.6</text>
<text x="1127.85" y="92.74">0.8</text>
<text x="1127.85" y="32.8">1.0</text>
</g>
<text class="pl" x="1143.45" y="47">c</text>
</g>
<g id="p-d">
<path d="M1605.8 11.85v8M1605.8 340.45v-8M1596.35 325.9h8M1980.15 325.9h-8M1642.32 11.85v4.3M1642.32 340.45v-4.3M1596.35 295.93h4.3M1980.15 295.93h-4.3M1678.84 11.85v8M1678.84 340.45v-8M1596.35 265.96h8M1980.15 265.96h-8M1715.36 11.85v4.3M1715.36 340.45v-4.3M1596.35 235.99h4.3M1980.15 235.99h-4.3M1751.88 11.85v8M1751.88 340.45v-8M1596.35 206.02h8M1980.15 206.02h-8M1788.4 11.85v4.3M1788.4 340.45v-4.3M1596.35 176.05h4.3M1980.15 176.05h-4.3M1824.92 11.85v8M1824.92 340.45v-8M1596.35 146.08h8M1980.15 146.08h-8M1861.44 11.85v4.3M1861.44 340.45v-4.3M1596.35 116.11h4.3M1980.15 116.11h-4.3M1897.96 11.85v8M1897.96 340.45v-8M1596.35 86.14h8M1980.15 86.14h-8M1934.48 11.85v4.3M1934.48 340.45v-4.3M1596.35 56.17h4.3M1980.15 56.17h-4.3M1971 11.85v8M1971 340.45v-8M1596.35 26.2h8M1980.15 26.2h-8" fill="none" stroke="#000" stroke-width="1.6"/>
<rect x="1596.35" y="11.85" width="383.8" height="328.6" fill="none" stroke="#000" stroke-width="1.8"/>
<path d="M1605.8 325.9L1609.45 325.9M1609.45 325.9L1613.1 325.9M1613.1 325.9L1616.76 325.9M1616.76 325.9L1620.41 325.9M1620.41 325.9L1624.06 325.9M1624.06 325.9L1627.71 325.9M1627.71 325.9L1631.36 325.9M1631.36 325.9L1635.02 154.17M1635.02 154.17L1638.67 148.18M1638.67 148.18L1642.32 142.18M1642.32 142.18L1645.97 136.19M1645.97 136.19L1649.62 130.2M1649.62 130.2L1653.28 124.2M1653.28 124.2L1656.93 118.21M1656.93 118.21L1660.58 112.21M1660.58 112.21L1664.23 106.22M1664.23 106.22L1667.88 204.52M1667.88 204.52L1671.54 325.9M1671.54 325.9L1675.19 325.9M1675.19 325.9L1678.84 325.9M1678.84 325.9L1682.49 325.9M1682.49 325.9L1686.14 325.9M1686.14 325.9L1689.8 325.9M1689.8 325.9L1693.45 325.9M1693.45 325.9L1697.1 325.9M1697.1 325.9L1700.75 325.9M1700.75 325.9L1704.4 325.9M1704.4 325.9L1708.06 325.9M1708.06 325.9L1711.71 325.9M1711.71 325.9L1715.36 325.9M1715.36 325.9L1719.01 325.9M1719.01 325.9L1722.66 325.9M1722.66 325.9L1726.32 325.9M1726.32 325.9L1729.97 325.9M1729.97 325.9L1733.62 325.9M1733.62 325.9L1737.27 325.9M1737.27 325.9L1740.92 325.9M1740.92 325.9L1744.58 325.9M1744.58 325.9L1748.23 325.9M1748.23 325.9L1751.88 325.9M1751.88 325.9L1755.53 325.9M1755.53 325.9L1759.18 325.9M1759.18 325.9L1762.84 325.9M1762.84 325.9L1766.49 325.9M1766.49 325.9L1770.14 325.9M1770.14 325.9L1773.79 325.9M1773.79 325.9L1777.44 325.9M1777.44 325.9L1781.1 325.9M1781.1 325.9L1784.75 325.9M1784.75 325.9L1788.4 325.9M1788.4 325.9L1792.05 325.9M1792.05 325.9L1795.7 325.9M1795.7 325.9L1799.36 325.9M1799.36 325.9L1803.01 325.9M1803.01 325.9L1806.66 325.9M1806.66 325.9L1810.31 325.9M1810.31 325.9L1813.96 325.9M1813.96 325.9L1817.62 325.9M1817.62 325.9L1821.27 325.9M1821.27 325.9L1824.92 325.9M1824.92 325.9L1828.57 325.9M1828.57 325.9L1832.22 325.9M1832.22 325.9L1835.88 325.9M1835.88 325.9L1839.53 325.9M1839.53 325.9L1843.18 325.9M1843.18 325.9L1846.83 325.9M1846.83 325.9L1850.48 325.9M1850.48 325.9L1854.14 325.9M1854.14 325.9L1857.79 325.9M1857.79 325.9L1861.44 325.9M1861.44 325.9L1865.09 325.9M1865.09 325.9L1868.74 325.9M1868.74 325.9L1872.4 325.9M1872.4 325.9L1876.05 325.9M1876.05 325.9L1879.7 325.9M1879.7 325.9L1883.35 325.9M1883.35 325.9L1887 325.9M1887 325.9L1890.66 325.9M1890.66 325.9L1894.31 325.9M1894.31 325.9L1897.96 325.9M1897.96 325.9L1901.61 325.9M1901.61 325.9L1905.26 325.9M1905.26 325.9L1908.92 325.9M1908.92 325.9L1912.57 325.9M1912.57 325.9L1916.22 325.9M1916.22 325.9L1919.87 325.9M1919.87 325.9L1923.52 325.9M1923.52 325.9L1927.18 325.9M1927.18 325.9L1930.83 325.9M1930.83 325.9L1934.48 325.9M1934.48 325.9L1938.13 325.9M1938.13 325.9L1941.78 325.9M1941.78 325.9L1945.44 325.9M1945.44 325.9L1949.09 325.9M1949.09 325.9L1952.74 325.9M1952.74 325.9L1956.39 325.9M1956.39 325.9L1960.04 325.9M1960.04 325.9L1963.7 325.9M1963.7 325.9L1967.35 325.9M1967.35 325.9L1971 325.9" fill="none" stroke="#000000" stroke-width="2.45" stroke-linecap="round" stroke-dasharray="3.1 10.1" stroke-dashoffset="-1.2"/>
<g fill="#000000">
<rect x="1600.9" y="321" width="9.8" height="9.8" rx="0.6"/>
<rect x="1604.55" y="321" width="9.8" height="9.8" rx="0.6"/>
<rect x="1608.2" y="321" width="9.8" height="9.8" rx="0.6"/>
<rect x="1611.86" y="321" width="9.8" height="9.8" rx="0.6"/>
<rect x="1615.51" y="321" width="9.8" height="9.8" rx="0.6"/>
<rect x="1619.16" y="321" width="9.8" height="9.8" rx="0.6"/>
<rect x="1622.81" y="321" width="9.8" height="9.8" rx="0.6"/>
<rect x="1626.46" y="321" width="9.8" height="9.8" rx="0.6"/>
<rect x="1630.12" y="149.27" width="9.8" height="9.8" rx="0.6"/>
<rect x="1633.77" y="143.28" width="9.8" height="9.8" rx="0.6"/>
<rect x="1637.42" y="137.28" width="9.8" height="9.8" rx="0.6"/>
<rect x="1641.07" y="131.29" width="9.8" height="9.8" rx="0.6"/>
<rect x="1644.72" y="125.3" width="9.8" height="9.8" rx="0.6"/>
<rect x="1648.38" y="119.3" width="9.8" height="9.8" rx="0.6"/>
<rect x="1652.03" y="113.31" width="9.8" height="9.8" rx="0.6"/>
<rect x="1655.68" y="107.31" width="9.8" height="9.8" rx="0.6"/>
<rect x="1659.33" y="101.32" width="9.8" height="9.8" rx="0.6"/>
<rect x="1662.98" y="199.62" width="9.8" height="9.8" rx="0.6"/>
<rect x="1666.64" y="321" width="9.8" height="9.8" rx="0.6"/>
<rect x="1670.29" y="321" width="9.8" height="9.8" rx="0.6"/>
<rect x="1673.94" y="321" width="9.8" height="9.8" rx="0.6"/>
<rect x="1677.59" y="321" width="9.8" height="9.8" rx="0.6"/>
<rect x="1681.24" y="321" width="9.8" height="9.8" rx="0.6"/>
<rect x="1684.9" y="321" width="9.8" height="9.8" rx="0.6"/>
<rect x="1688.55" y="321" width="9.8" height="9.8" rx="0.6"/>
<rect x="1692.2" y="321" width="9.8" height="9.8" rx="0.6"/>
<rect x="1695.85" y="321" width="9.8" height="9.8" rx="0.6"/>
<rect x="1699.5" y="321" width="9.8" height="9.8" rx="0.6"/>
<rect x="1703.16" y="321" width="9.8" height="9.8" rx="0.6"/>
<rect x="1706.81" y="321" width="9.8" height="9.8" rx="0.6"/>
<rect x="1710.46" y="321" width="9.8" height="9.8" rx="0.6"/>
<rect x="1714.11" y="321" width="9.8" height="9.8" rx="0.6"/>
<rect x="1717.76" y="321" width="9.8" height="9.8" rx="0.6"/>
<rect x="1721.42" y="321" width="9.8" height="9.8" rx="0.6"/>
<rect x="1725.07" y="321" width="9.8" height="9.8" rx="0.6"/>
<rect x="1728.72" y="321" width="9.8" height="9.8" rx="0.6"/>
<rect x="1732.37" y="321" width="9.8" height="9.8" rx="0.6"/>
<rect x="1736.02" y="321" width="9.8" height="9.8" rx="0.6"/>
<rect x="1739.68" y="321" width="9.8" height="9.8" rx="0.6"/>
<rect x="1743.33" y="321" width="9.8" height="9.8" rx="0.6"/>
<rect x="1746.98" y="321" width="9.8" height="9.8" rx="0.6"/>
<rect x="1750.63" y="321" width="9.8" height="9.8" rx="0.6"/>
<rect x="1754.28" y="321" width="9.8" height="9.8" rx="0.6"/>
<rect x="1757.94" y="321" width="9.8" height="9.8" rx="0.6"/>
<rect x="1761.59" y="321" width="9.8" height="9.8" rx="0.6"/>
<rect x="1765.24" y="321" width="9.8" height="9.8" rx="0.6"/>
<rect x="1768.89" y="321" width="9.8" height="9.8" rx="0.6"/>
<rect x="1772.54" y="321" width="9.8" height="9.8" rx="0.6"/>
<rect x="1776.2" y="321" width="9.8" height="9.8" rx="0.6"/>
<rect x="1779.85" y="321" width="9.8" height="9.8" rx="0.6"/>
<rect x="1783.5" y="321" width="9.8" height="9.8" rx="0.6"/>
<rect x="1787.15" y="321" width="9.8" height="9.8" rx="0.6"/>
<rect x="1790.8" y="321" width="9.8" height="9.8" rx="0.6"/>
<rect x="1794.46" y="321" width="9.8" height="9.8" rx="0.6"/>
<rect x="1798.11" y="321" width="9.8" height="9.8" rx="0.6"/>
<rect x="1801.76" y="321" width="9.8" height="9.8" rx="0.6"/>
<rect x="1805.41" y="321" width="9.8" height="9.8" rx="0.6"/>
<rect x="1809.06" y="321" width="9.8" height="9.8" rx="0.6"/>
<rect x="1812.72" y="321" width="9.8" height="9.8" rx="0.6"/>
<rect x="1816.37" y="321" width="9.8" height="9.8" rx="0.6"/>
<rect x="1820.02" y="321" width="9.8" height="9.8" rx="0.6"/>
<rect x="1823.67" y="321" width="9.8" height="9.8" rx="0.6"/>
<rect x="1827.32" y="321" width="9.8" height="9.8" rx="0.6"/>
<rect x="1830.98" y="321" width="9.8" height="9.8" rx="0.6"/>
<rect x="1834.63" y="321" width="9.8" height="9.8" rx="0.6"/>
<rect x="1838.28" y="321" width="9.8" height="9.8" rx="0.6"/>
<rect x="1841.93" y="321" width="9.8" height="9.8" rx="0.6"/>
<rect x="1845.58" y="321" width="9.8" height="9.8" rx="0.6"/>
<rect x="1849.24" y="321" width="9.8" height="9.8" rx="0.6"/>
<rect x="1852.89" y="321" width="9.8" height="9.8" rx="0.6"/>
<rect x="1856.54" y="321" width="9.8" height="9.8" rx="0.6"/>
<rect x="1860.19" y="321" width="9.8" height="9.8" rx="0.6"/>
<rect x="1863.84" y="321" width="9.8" height="9.8" rx="0.6"/>
<rect x="1867.5" y="321" width="9.8" height="9.8" rx="0.6"/>
<rect x="1871.15" y="321" width="9.8" height="9.8" rx="0.6"/>
<rect x="1874.8" y="321" width="9.8" height="9.8" rx="0.6"/>
<rect x="1878.45" y="321" width="9.8" height="9.8" rx="0.6"/>
<rect x="1882.1" y="321" width="9.8" height="9.8" rx="0.6"/>
<rect x="1885.76" y="321" width="9.8" height="9.8" rx="0.6"/>
<rect x="1889.41" y="321" width="9.8" height="9.8" rx="0.6"/>
<rect x="1893.06" y="321" width="9.8" height="9.8" rx="0.6"/>
<rect x="1896.71" y="321" width="9.8" height="9.8" rx="0.6"/>
<rect x="1900.36" y="321" width="9.8" height="9.8" rx="0.6"/>
<rect x="1904.02" y="321" width="9.8" height="9.8" rx="0.6"/>
<rect x="1907.67" y="321" width="9.8" height="9.8" rx="0.6"/>
<rect x="1911.32" y="321" width="9.8" height="9.8" rx="0.6"/>
<rect x="1914.97" y="321" width="9.8" height="9.8" rx="0.6"/>
<rect x="1918.62" y="321" width="9.8" height="9.8" rx="0.6"/>
<rect x="1922.28" y="321" width="9.8" height="9.8" rx="0.6"/>
<rect x="1925.93" y="321" width="9.8" height="9.8" rx="0.6"/>
<rect x="1929.58" y="321" width="9.8" height="9.8" rx="0.6"/>
<rect x="1933.23" y="321" width="9.8" height="9.8" rx="0.6"/>
<rect x="1936.88" y="321" width="9.8" height="9.8" rx="0.6"/>
<rect x="1940.54" y="321" width="9.8" height="9.8" rx="0.6"/>
<rect x="1944.19" y="321" width="9.8" height="9.8" rx="0.6"/>
<rect x="1947.84" y="321" width="9.8" height="9.8" rx="0.6"/>
<rect x="1951.49" y="321" width="9.8" height="9.8" rx="0.6"/>
<rect x="1955.14" y="321" width="9.8" height="9.8" rx="0.6"/>
<rect x="1958.8" y="321" width="9.8" height="9.8" rx="0.6"/>
<rect x="1962.45" y="321" width="9.8" height="9.8" rx="0.6"/>
<rect x="1966.1" y="321" width="9.8" height="9.8" rx="0.6"/>
</g>
<path d="M1613.1 325.9L1616.76 140.09M1616.76 140.09L1622.23 91.53M1622.23 91.53L1627.71 62.16M1627.71 62.16L1630.09 36.99M1630.09 36.99L1633.56 26.2" fill="none" stroke="#000000" stroke-width="2.7" stroke-linecap="round" stroke-dasharray="0.01 5.9"/>
<g fill="#fff" stroke="#000000" stroke-width="2.45">
<rect x="1602.22" y="322.32" width="7.15" height="7.15"/>
<rect x="1605.88" y="322.32" width="7.15" height="7.15"/>
<rect x="1609.53" y="322.32" width="7.15" height="7.15"/>
<rect x="1618.66" y="87.96" width="7.15" height="7.15"/>
<rect x="1624.14" y="58.59" width="7.15" height="7.15"/>
<rect x="1626.51" y="33.41" width="7.15" height="7.15"/>
<rect x="1629.98" y="22.62" width="7.15" height="7.15"/>
<rect x="1967.42" y="22.62" width="7.15" height="7.15"/>
</g>
<g fill="#000000">
<rect x="1658.63" y="24.25" width="3.9" height="3.9"/>
<rect x="1695.15" y="24.25" width="3.9" height="3.9"/>
<rect x="1731.67" y="24.25" width="3.9" height="3.9"/>
<rect x="1768.19" y="24.25" width="3.9" height="3.9"/>
<rect x="1804.71" y="24.25" width="3.9" height="3.9"/>
<rect x="1841.23" y="24.25" width="3.9" height="3.9"/>
<rect x="1877.75" y="24.25" width="3.9" height="3.9"/>
<rect x="1914.27" y="24.25" width="3.9" height="3.9"/>
<rect x="1950.79" y="24.25" width="3.9" height="3.9"/>
</g>
<path d="M1605.8 325.9L1609.45 325.9M1609.45 325.9L1613.1 325.9M1613.1 325.9L1616.76 141.88M1616.76 141.88L1620.41 120.31M1620.41 120.31L1624.06 98.13M1624.06 98.13L1627.71 73.25M1627.71 73.25L1631.36 50.48M1631.36 50.48L1635.02 33.99M1635.02 33.99L1638.67 26.2" fill="none" stroke="#0000ff" stroke-width="2.65" stroke-linecap="round" stroke-dasharray="0.01 5.9"/>
<g fill="#fff" stroke="#0000ff" stroke-width="2.4">
<circle cx="1605.8" cy="325.9" r="4.3"/>
<circle cx="1609.45" cy="325.9" r="4.3"/>
<circle cx="1613.1" cy="325.9" r="4.3"/>
<circle cx="1616.76" cy="141.88" r="4.3"/>
<circle cx="1620.41" cy="120.31" r="4.3"/>
<circle cx="1624.06" cy="98.13" r="4.3"/>
<circle cx="1627.71" cy="73.25" r="4.3"/>
<circle cx="1631.36" cy="50.48" r="4.3"/>
<circle cx="1635.02" cy="33.99" r="4.3"/>
<circle cx="1638.67" cy="26.2" r="4.3"/>
<circle cx="1971" cy="26.2" r="4.3"/>
</g>
<g fill="#0000ff">
<circle cx="1678.84" cy="26.2" r="2.7"/>
<circle cx="1715.36" cy="26.2" r="2.7"/>
<circle cx="1751.88" cy="26.2" r="2.7"/>
<circle cx="1788.4" cy="26.2" r="2.7"/>
<circle cx="1824.92" cy="26.2" r="2.7"/>
<circle cx="1861.44" cy="26.2" r="2.7"/>
<circle cx="1897.96" cy="26.2" r="2.7"/>
<circle cx="1934.48" cy="26.2" r="2.7"/>
</g>
<path d="M1605.8 325.9L1609.45 325.9M1609.45 325.9L1613.1 166.76M1613.1 166.76L1616.76 148.18M1616.76 148.18L1620.41 129.3M1620.41 129.3L1624.06 110.42M1624.06 110.42L1627.71 89.74M1627.71 89.74L1631.36 138.89M1631.36 138.89L1635.02 189.24M1635.02 189.24L1638.67 215.01M1638.67 215.01L1642.32 225.8M1642.32 225.8L1645.97 235.39M1645.97 235.39L1649.62 239.5M1649.62 239.5L1653.28 243.6M1653.28 243.6L1656.93 247.71M1656.93 247.71L1660.58 251.24M1660.58 251.24L1664.23 254.18M1664.23 254.18L1667.88 257.12M1667.88 257.12L1671.54 260.09M1671.54 260.09L1675.19 263.02M1675.19 263.02L1678.84 265.96M1678.84 265.96L1682.49 268.42M1682.49 268.42L1686.14 270.88M1686.14 270.88L1689.8 273.33M1689.8 273.33L1693.45 275.79M1693.45 275.79L1697.1 278.25M1697.1 278.25L1700.75 280.29M1700.75 280.29L1704.4 282.32M1704.4 282.32L1708.06 284.36M1708.06 284.36L1711.71 286.4M1711.71 286.4L1715.36 288.44M1715.36 288.44L1719.01 290.12M1719.01 290.12L1722.66 291.79M1722.66 291.79L1726.32 293.47M1726.32 293.47L1729.97 295.15M1729.97 295.15L1733.62 296.83M1733.62 296.83L1737.27 298.21M1737.27 298.21L1740.92 299.59M1740.92 299.59L1744.58 300.96M1744.58 300.96L1748.23 302.34M1748.23 302.34L1751.88 303.72M1751.88 303.72L1755.53 304.74M1755.53 304.74L1759.18 305.76M1759.18 305.76L1762.84 306.78M1762.84 306.78L1766.49 307.8M1766.49 307.8L1770.14 308.82M1770.14 308.82L1773.79 309.6M1773.79 309.6L1777.44 310.38M1777.44 310.38L1781.1 311.15M1781.1 311.15L1784.75 311.93M1784.75 311.93L1788.4 312.71M1788.4 312.71L1792.05 313.13M1792.05 313.13L1795.7 313.55M1795.7 313.55L1799.36 313.97M1799.36 313.97L1803.01 314.39M1803.01 314.39L1806.66 314.81M1806.66 314.81L1810.31 315.11M1810.31 315.11L1813.96 315.41M1813.96 315.41L1817.62 315.71M1817.62 315.71L1821.27 316.01M1821.27 316.01L1824.92 316.31M1824.92 316.31L1826.75 325.9M1826.75 325.9L1830.4 325.9M1830.4 325.9L1834.05 325.9M1834.05 325.9L1837.7 325.9M1837.7 325.9L1841.35 325.9M1841.35 325.9L1845.01 325.9M1845.01 325.9L1848.66 325.9M1848.66 325.9L1852.31 325.9M1852.31 325.9L1855.96 325.9M1855.96 325.9L1859.61 325.9M1859.61 325.9L1863.27 325.9M1863.27 325.9L1866.92 325.9M1866.92 325.9L1870.57 325.9M1870.57 325.9L1874.22 325.9M1874.22 325.9L1877.87 325.9M1877.87 325.9L1881.53 325.9M1881.53 325.9L1885.18 325.9M1885.18 325.9L1888.83 325.9M1888.83 325.9L1892.48 325.9M1892.48 325.9L1896.13 325.9M1896.13 325.9L1899.79 325.9M1899.79 325.9L1903.44 325.9M1903.44 325.9L1907.09 325.9M1907.09 325.9L1910.74 325.9M1910.74 325.9L1914.39 325.9M1914.39 325.9L1918.05 325.9M1918.05 325.9L1921.7 325.9M1921.7 325.9L1925.35 325.9M1925.35 325.9L1929 325.9M1929 325.9L1932.65 325.9M1932.65 325.9L1936.31 325.9M1936.31 325.9L1939.96 325.9M1939.96 325.9L1943.61 325.9M1943.61 325.9L1947.26 325.9M1947.26 325.9L1950.91 325.9M1950.91 325.9L1954.57 325.9M1954.57 325.9L1958.22 325.9M1958.22 325.9L1961.87 325.9M1961.87 325.9L1965.52 325.9M1965.52 325.9L1969.17 325.9M1969.17 325.9L1972.83 325.9" fill="none" stroke="#ff0000" stroke-width="2.45" stroke-linecap="round" stroke-dasharray="3.1 10.1" stroke-dashoffset="-1.2"/>
<g fill="#ff0000">
<circle cx="1605.8" cy="325.9" r="5.6"/>
<circle cx="1609.45" cy="325.9" r="5.6"/>
<circle cx="1613.1" cy="166.76" r="5.6"/>
<circle cx="1616.76" cy="148.18" r="5.6"/>
<circle cx="1620.41" cy="129.3" r="5.6"/>
<circle cx="1624.06" cy="110.42" r="5.6"/>
<circle cx="1627.71" cy="89.74" r="5.6"/>
<circle cx="1631.36" cy="138.89" r="5.6"/>
<circle cx="1635.02" cy="189.24" r="5.6"/>
<circle cx="1638.67" cy="215.01" r="5.6"/>
<circle cx="1642.32" cy="225.8" r="5.6"/>
<circle cx="1645.97" cy="235.39" r="5.6"/>
<circle cx="1649.62" cy="239.5" r="5.6"/>
<circle cx="1653.28" cy="243.6" r="5.6"/>
<circle cx="1656.93" cy="247.71" r="5.6"/>
<circle cx="1660.58" cy="251.24" r="5.6"/>
<circle cx="1664.23" cy="254.18" r="5.6"/>
<circle cx="1667.88" cy="257.12" r="5.6"/>
<circle cx="1671.54" cy="260.09" r="5.6"/>
<circle cx="1675.19" cy="263.02" r="5.6"/>
<circle cx="1678.84" cy="265.96" r="5.6"/>
<circle cx="1682.49" cy="268.42" r="5.6"/>
<circle cx="1686.14" cy="270.88" r="5.6"/>
<circle cx="1689.8" cy="273.33" r="5.6"/>
<circle cx="1693.45" cy="275.79" r="5.6"/>
<circle cx="1697.1" cy="278.25" r="5.6"/>
<circle cx="1700.75" cy="280.29" r="5.6"/>
<circle cx="1704.4" cy="282.32" r="5.6"/>
<circle cx="1708.06" cy="284.36" r="5.6"/>
<circle cx="1711.71" cy="286.4" r="5.6"/>
<circle cx="1715.36" cy="288.44" r="5.6"/>
<circle cx="1719.01" cy="290.12" r="5.6"/>
<circle cx="1722.66" cy="291.79" r="5.6"/>
<circle cx="1726.32" cy="293.47" r="5.6"/>
<circle cx="1729.97" cy="295.15" r="5.6"/>
<circle cx="1733.62" cy="296.83" r="5.6"/>
<circle cx="1737.27" cy="298.21" r="5.6"/>
<circle cx="1740.92" cy="299.59" r="5.6"/>
<circle cx="1744.58" cy="300.96" r="5.6"/>
<circle cx="1748.23" cy="302.34" r="5.6"/>
<circle cx="1751.88" cy="303.72" r="5.6"/>
<circle cx="1755.53" cy="304.74" r="5.6"/>
<circle cx="1759.18" cy="305.76" r="5.6"/>
<circle cx="1762.84" cy="306.78" r="5.6"/>
<circle cx="1766.49" cy="307.8" r="5.6"/>
<circle cx="1770.14" cy="308.82" r="5.6"/>
<circle cx="1773.79" cy="309.6" r="5.6"/>
<circle cx="1777.44" cy="310.38" r="5.6"/>
<circle cx="1781.1" cy="311.15" r="5.6"/>
<circle cx="1784.75" cy="311.93" r="5.6"/>
<circle cx="1788.4" cy="312.71" r="5.6"/>
<circle cx="1792.05" cy="313.13" r="5.6"/>
<circle cx="1795.7" cy="313.55" r="5.6"/>
<circle cx="1799.36" cy="313.97" r="5.6"/>
<circle cx="1803.01" cy="314.39" r="5.6"/>
<circle cx="1806.66" cy="314.81" r="5.6"/>
<circle cx="1810.31" cy="315.11" r="5.6"/>
<circle cx="1813.96" cy="315.41" r="5.6"/>
<circle cx="1817.62" cy="315.71" r="5.6"/>
<circle cx="1821.27" cy="316.01" r="5.6"/>
<circle cx="1824.92" cy="316.31" r="5.6"/>
<circle cx="1826.75" cy="325.9" r="5.6"/>
<circle cx="1830.4" cy="325.9" r="5.6"/>
<circle cx="1834.05" cy="325.9" r="5.6"/>
<circle cx="1837.7" cy="325.9" r="5.6"/>
<circle cx="1841.35" cy="325.9" r="5.6"/>
<circle cx="1845.01" cy="325.9" r="5.6"/>
<circle cx="1848.66" cy="325.9" r="5.6"/>
<circle cx="1852.31" cy="325.9" r="5.6"/>
<circle cx="1855.96" cy="325.9" r="5.6"/>
<circle cx="1859.61" cy="325.9" r="5.6"/>
<circle cx="1863.27" cy="325.9" r="5.6"/>
<circle cx="1866.92" cy="325.9" r="5.6"/>
<circle cx="1870.57" cy="325.9" r="5.6"/>
<circle cx="1874.22" cy="325.9" r="5.6"/>
<circle cx="1877.87" cy="325.9" r="5.6"/>
<circle cx="1881.53" cy="325.9" r="5.6"/>
<circle cx="1885.18" cy="325.9" r="5.6"/>
<circle cx="1888.83" cy="325.9" r="5.6"/>
<circle cx="1892.48" cy="325.9" r="5.6"/>
<circle cx="1896.13" cy="325.9" r="5.6"/>
<circle cx="1899.79" cy="325.9" r="5.6"/>
<circle cx="1903.44" cy="325.9" r="5.6"/>
<circle cx="1907.09" cy="325.9" r="5.6"/>
<circle cx="1910.74" cy="325.9" r="5.6"/>
<circle cx="1914.39" cy="325.9" r="5.6"/>
<circle cx="1918.05" cy="325.9" r="5.6"/>
<circle cx="1921.7" cy="325.9" r="5.6"/>
<circle cx="1925.35" cy="325.9" r="5.6"/>
<circle cx="1929" cy="325.9" r="5.6"/>
<circle cx="1932.65" cy="325.9" r="5.6"/>
<circle cx="1936.31" cy="325.9" r="5.6"/>
<circle cx="1939.96" cy="325.9" r="5.6"/>
<circle cx="1943.61" cy="325.9" r="5.6"/>
<circle cx="1947.26" cy="325.9" r="5.6"/>
<circle cx="1950.91" cy="325.9" r="5.6"/>
<circle cx="1954.57" cy="325.9" r="5.6"/>
<circle cx="1958.22" cy="325.9" r="5.6"/>
<circle cx="1961.87" cy="325.9" r="5.6"/>
<circle cx="1965.52" cy="325.9" r="5.6"/>
<circle cx="1969.17" cy="325.9" r="5.6"/>
<circle cx="1972.83" cy="325.9" r="5.6"/>
</g>
<g class="tk" text-anchor="middle">
<text x="1605.8" y="365.5">0.0</text>
<text x="1678.84" y="365.5">0.2</text>
<text x="1751.88" y="365.5">0.4</text>
<text x="1824.92" y="365.5">0.6</text>
<text x="1897.96" y="365.5">0.8</text>
<text x="1971" y="365.5">1.0</text>
</g>
<g class="tk" text-anchor="end">
<text x="1588.35" y="332.5">0.0</text>
<text x="1588.35" y="272.56">0.2</text>
<text x="1588.35" y="212.62">0.4</text>
<text x="1588.35" y="152.68">0.6</text>
<text x="1588.35" y="92.74">0.8</text>
<text x="1588.35" y="32.8">1.0</text>
</g>
<text class="pl" x="1603.95" y="47">d</text>
</g>
<g id="p-e">
<path d="M224.8 428.55v8M224.8 757.15v-8M215.35 742.6h8M599.15 742.6h-8M261.32 428.55v4.3M261.32 757.15v-4.3M215.35 712.63h4.3M599.15 712.63h-4.3M297.84 428.55v8M297.84 757.15v-8M215.35 682.66h8M599.15 682.66h-8M334.36 428.55v4.3M334.36 757.15v-4.3M215.35 652.69h4.3M599.15 652.69h-4.3M370.88 428.55v8M370.88 757.15v-8M215.35 622.72h8M599.15 622.72h-8M407.4 428.55v4.3M407.4 757.15v-4.3M215.35 592.75h4.3M599.15 592.75h-4.3M443.92 428.55v8M443.92 757.15v-8M215.35 562.78h8M599.15 562.78h-8M480.44 428.55v4.3M480.44 757.15v-4.3M215.35 532.81h4.3M599.15 532.81h-4.3M516.96 428.55v8M516.96 757.15v-8M215.35 502.84h8M599.15 502.84h-8M553.48 428.55v4.3M553.48 757.15v-4.3M215.35 472.87h4.3M599.15 472.87h-4.3M590 428.55v8M590 757.15v-8M215.35 442.9h8M599.15 442.9h-8" fill="none" stroke="#000" stroke-width="1.6"/>
<rect x="215.35" y="428.55" width="383.8" height="328.6" fill="none" stroke="#000" stroke-width="1.8"/>
<path d="M261.32 742.6L334.36 742.6M334.36 742.6L407.4 742.6M407.4 742.6L480.44 742.6M480.44 742.6L516.96 742.6M516.96 742.6L553.48 742.6M553.48 742.6L590 742.6" fill="none" stroke="#000000" stroke-width="2.45" stroke-linecap="round" stroke-dasharray="3.1 10.1" stroke-dashoffset="-1.2"/>
<g fill="#000000">
<rect x="256.42" y="737.7" width="9.8" height="9.8" rx="0.6"/>
<rect x="329.46" y="737.7" width="9.8" height="9.8" rx="0.6"/>
<rect x="402.5" y="737.7" width="9.8" height="9.8" rx="0.6"/>
<rect x="475.54" y="737.7" width="9.8" height="9.8" rx="0.6"/>
<rect x="512.06" y="737.7" width="9.8" height="9.8" rx="0.6"/>
<rect x="548.58" y="737.7" width="9.8" height="9.8" rx="0.6"/>
<rect x="585.1" y="737.7" width="9.8" height="9.8" rx="0.6"/>
</g>
<path d="M487.74 742.6L491.4 442.9" fill="none" stroke="#000000" stroke-width="2.7" stroke-linecap="round" stroke-dasharray="0.01 5.9"/>
<g fill="#fff" stroke="#000000" stroke-width="2.45">
<rect x="276" y="739.02" width="7.15" height="7.15"/>
<rect x="349.05" y="739.02" width="7.15" height="7.15"/>
<rect x="422.09" y="739.02" width="7.15" height="7.15"/>
<rect x="484.17" y="739.02" width="7.15" height="7.15"/>
<rect x="487.82" y="439.32" width="7.15" height="7.15"/>
<rect x="586.42" y="439.32" width="7.15" height="7.15"/>
</g>
<g fill="#000000">
<rect x="511.36" y="440.95" width="3.9" height="3.9"/>
<rect x="533.27" y="440.95" width="3.9" height="3.9"/>
<rect x="569.79" y="440.95" width="3.9" height="3.9"/>
</g>
<path d="M243.06 742.6L316.1 742.6M549.83 742.6L553.48 442.9" fill="none" stroke="#0000ff" stroke-width="2.65" stroke-linecap="round" stroke-dasharray="0.01 5.9"/>
<g fill="#fff" stroke="#0000ff" stroke-width="2.4">
<circle cx="243.06" cy="742.6" r="4.3"/>
<circle cx="316.1" cy="742.6" r="4.3"/>
<circle cx="389.14" cy="742.6" r="4.3"/>
<circle cx="462.18" cy="742.6" r="4.3"/>
<circle cx="480.44" cy="742.6" r="4.3"/>
<circle cx="498.7" cy="742.6" r="4.3"/>
<circle cx="516.96" cy="742.6" r="4.3"/>
<circle cx="535.22" cy="742.6" r="4.3"/>
<circle cx="546.18" cy="742.6" r="4.3"/>
<circle cx="549.83" cy="742.6" r="4.3"/>
<circle cx="553.48" cy="442.9" r="4.3"/>
<circle cx="590" cy="442.9" r="4.3"/>
</g>
<path d="M473.14 742.6L476.79 442.9M484.09 442.9L487.74 584.66M487.74 584.66L498.7 589.6M498.7 589.6L507.83 593.89M507.83 593.89L516.96 598.14M516.96 598.14L526.09 602.64M526.09 602.64L535.22 607.14M535.22 607.14L544.35 612.23M544.35 612.23L553.48 617.33M553.48 617.33L562.61 621.97M562.61 621.97L571.74 626.62M571.74 626.62L580.87 630.66M580.87 630.66L590 634.71" fill="none" stroke="#ff0000" stroke-width="2.45" stroke-linecap="round" stroke-dasharray="3.1 10.1" stroke-dashoffset="-1.2"/>
<g fill="#ff0000">
<circle cx="224.8" cy="742.6" r="5.6"/>
<circle cx="297.84" cy="742.6" r="5.6"/>
<circle cx="370.88" cy="742.6" r="5.6"/>
<circle cx="443.92" cy="742.6" r="5.6"/>
<circle cx="458.53" cy="742.6" r="5.6"/>
<circle cx="465.83" cy="742.6" r="5.6"/>
<circle cx="473.14" cy="742.6" r="5.6"/>
<circle cx="476.79" cy="442.9" r="5.6"/>
<circle cx="480.44" cy="442.9" r="5.6"/>
<circle cx="484.09" cy="442.9" r="5.6"/>
<circle cx="487.74" cy="584.66" r="5.6"/>
<circle cx="498.7" cy="589.6" r="5.6"/>
<circle cx="507.83" cy="593.89" r="5.6"/>
<circle cx="516.96" cy="598.14" r="5.6"/>
<circle cx="526.09" cy="602.64" r="5.6"/>
<circle cx="535.22" cy="607.14" r="5.6"/>
<circle cx="544.35" cy="612.23" r="5.6"/>
<circle cx="553.48" cy="617.33" r="5.6"/>
<circle cx="562.61" cy="621.97" r="5.6"/>
<circle cx="571.74" cy="626.62" r="5.6"/>
<circle cx="580.87" cy="630.66" r="5.6"/>
<circle cx="590" cy="634.71" r="5.6"/>
</g>
<g class="tk" text-anchor="middle">
<text x="224.8" y="782.2">0.0</text>
<text x="297.84" y="782.2">0.2</text>
<text x="370.88" y="782.2">0.4</text>
<text x="443.92" y="782.2">0.6</text>
<text x="516.96" y="782.2">0.8</text>
<text x="590" y="782.2">1.0</text>
</g>
<g class="tk" text-anchor="end">
<text x="207.35" y="749.2">0.0</text>
<text x="207.35" y="689.26">0.2</text>
<text x="207.35" y="629.32">0.4</text>
<text x="207.35" y="569.38">0.6</text>
<text x="207.35" y="509.44">0.8</text>
<text x="207.35" y="449.5">1.0</text>
</g>
<text class="pl" x="222.95" y="463.7">e</text>
<path d="M252.1 520H298.2" fill="none" stroke="#ff0000" stroke-width="2.7" stroke-linecap="round" stroke-dasharray="3.7 9.4"/>
<circle cx="277.7" cy="520" r="5.3" fill="#ff0000"/>
<text class="lg" x="309.2" y="527.7"><tspan class="rho">ρ</tspan><tspan class="s1" x="320.1" y="535.7">P</tspan><tspan class="s2" x="328.9" y="539.9">S</tspan><tspan class="it" x="333.7" y="527.7">(EI)</tspan></text>
<path d="M252 560.2H302.2" fill="none" stroke="#0000ff" stroke-width="3" stroke-linecap="round" stroke-dasharray="0.01 5.9"/>
<circle cx="277.7" cy="560.2" r="4.2" fill="#fff" stroke="#0000ff" stroke-width="2.4"/>
<text class="lg" x="309.2" y="567.9"><tspan class="rho">ρ</tspan><tspan class="s1" x="320.1" y="575.9">P</tspan><tspan class="s2" x="328.9" y="580.1">B</tspan><tspan class="it" x="333.7" y="567.9">(EP)</tspan></text>
<path d="M252.1 600.4H298.2" fill="none" stroke="#000000" stroke-width="2.7" stroke-linecap="round" stroke-dasharray="3.7 9.4"/>
<rect x="272.9" y="595.6" width="9.6" height="9.6" rx="0.6" fill="#000000"/>
<text class="lg" x="309.2" y="608.1"><tspan class="rho">ρ</tspan><tspan class="s1" x="320.1" y="616.1">P</tspan><tspan class="s2" x="328.9" y="620.3">G</tspan><tspan class="it" x="333.7" y="608.1">(AI)</tspan></text>
<path d="M250.7 640.6H302.2" fill="none" stroke="#000000" stroke-width="2.6" stroke-dasharray="2.6 3.3"/>
<rect x="274.2" y="637.1" width="7" height="7" fill="#fff" stroke="#000000" stroke-width="2.4"/>
<text class="lg" x="309.2" y="648.3"><tspan class="rho">ρ</tspan><tspan class="s1" x="320.1" y="656.3">P</tspan><tspan class="s2" x="328.9" y="660.5">R</tspan><tspan class="it" x="333.7" y="648.3">(AP)</tspan></text>
</g>
<g id="p-f">
<path d="M685 428.55v8M685 757.15v-8M675.55 742.6h8M1059.35 742.6h-8M721.52 428.55v4.3M721.52 757.15v-4.3M675.55 712.63h4.3M1059.35 712.63h-4.3M758.04 428.55v8M758.04 757.15v-8M675.55 682.66h8M1059.35 682.66h-8M794.56 428.55v4.3M794.56 757.15v-4.3M675.55 652.69h4.3M1059.35 652.69h-4.3M831.08 428.55v8M831.08 757.15v-8M675.55 622.72h8M1059.35 622.72h-8M867.6 428.55v4.3M867.6 757.15v-4.3M675.55 592.75h4.3M1059.35 592.75h-4.3M904.12 428.55v8M904.12 757.15v-8M675.55 562.78h8M1059.35 562.78h-8M940.64 428.55v4.3M940.64 757.15v-4.3M675.55 532.81h4.3M1059.35 532.81h-4.3M977.16 428.55v8M977.16 757.15v-8M675.55 502.84h8M1059.35 502.84h-8M1013.68 428.55v4.3M1013.68 757.15v-4.3M675.55 472.87h4.3M1059.35 472.87h-4.3M1050.2 428.55v8M1050.2 757.15v-8M675.55 442.9h8M1059.35 442.9h-8" fill="none" stroke="#000" stroke-width="1.6"/>
<rect x="675.55" y="428.55" width="383.8" height="328.6" fill="none" stroke="#000" stroke-width="1.8"/>
<path d="M703.26 742.6L739.78 742.6M739.78 742.6L776.3 742.6M776.3 742.6L812.82 742.6M812.82 742.6L831.08 742.6M831.08 742.6L867.6 742.6M867.6 742.6L904.12 742.6M904.12 742.6L940.64 742.6M940.64 742.6L977.16 742.6M977.16 742.6L1013.68 742.6M1013.68 742.6L1050.2 742.6" fill="none" stroke="#000000" stroke-width="2.45" stroke-linecap="round" stroke-dasharray="3.1 10.1" stroke-dashoffset="-1.2"/>
<g fill="#000000">
<rect x="698.36" y="737.7" width="9.8" height="9.8" rx="0.6"/>
<rect x="734.88" y="737.7" width="9.8" height="9.8" rx="0.6"/>
<rect x="771.4" y="737.7" width="9.8" height="9.8" rx="0.6"/>
<rect x="807.92" y="737.7" width="9.8" height="9.8" rx="0.6"/>
<rect x="826.18" y="737.7" width="9.8" height="9.8" rx="0.6"/>
<rect x="862.7" y="737.7" width="9.8" height="9.8" rx="0.6"/>
<rect x="899.22" y="737.7" width="9.8" height="9.8" rx="0.6"/>
<rect x="935.74" y="737.7" width="9.8" height="9.8" rx="0.6"/>
<rect x="972.26" y="737.7" width="9.8" height="9.8" rx="0.6"/>
<rect x="1008.78" y="737.7" width="9.8" height="9.8" rx="0.6"/>
<rect x="1045.3" y="737.7" width="9.8" height="9.8" rx="0.6"/>
</g>
<path d="M712.39 742.6L748.91 742.6M748.91 742.6L785.43 742.6M785.43 742.6L805.52 742.6M805.52 742.6L812.82 742.6M812.82 742.6L818.3 742.6M818.3 742.6L823.78 742.6M823.78 742.6L827.43 442.9" fill="none" stroke="#000000" stroke-width="2.7" stroke-linecap="round" stroke-dasharray="0.01 5.9"/>
<g fill="#fff" stroke="#000000" stroke-width="2.45">
<rect x="708.81" y="739.02" width="7.15" height="7.15"/>
<rect x="745.33" y="739.02" width="7.15" height="7.15"/>
<rect x="781.86" y="739.02" width="7.15" height="7.15"/>
<rect x="801.94" y="739.02" width="7.15" height="7.15"/>
<rect x="809.24" y="739.02" width="7.15" height="7.15"/>
<rect x="814.72" y="739.02" width="7.15" height="7.15"/>
<rect x="820.2" y="739.02" width="7.15" height="7.15"/>
<rect x="823.85" y="439.32" width="7.15" height="7.15"/>
<rect x="1046.62" y="439.32" width="7.15" height="7.15"/>
</g>
<g fill="#000000">
<rect x="847.39" y="440.95" width="3.9" height="3.9"/>
<rect x="883.91" y="440.95" width="3.9" height="3.9"/>
<rect x="920.43" y="440.95" width="3.9" height="3.9"/>
<rect x="956.95" y="440.95" width="3.9" height="3.9"/>
<rect x="993.47" y="440.95" width="3.9" height="3.9"/>
<rect x="1029.99" y="440.95" width="3.9" height="3.9"/>
</g>
<path d="M694.13 742.6L730.65 742.6M730.65 742.6L767.17 742.6M794.56 742.6L798.21 442.9" fill="none" stroke="#0000ff" stroke-width="2.65" stroke-linecap="round" stroke-dasharray="0.01 5.9"/>
<g fill="#fff" stroke="#0000ff" stroke-width="2.4">
<circle cx="694.13" cy="742.6" r="4.3"/>
<circle cx="730.65" cy="742.6" r="4.3"/>
<circle cx="767.17" cy="742.6" r="4.3"/>
<circle cx="794.56" cy="742.6" r="4.3"/>
<circle cx="798.21" cy="442.9" r="4.3"/>
<circle cx="1050.2" cy="442.9" r="4.3"/>
</g>
<g fill="#0000ff">
<circle cx="831.08" cy="442.9" r="2.7"/>
<circle cx="867.6" cy="442.9" r="2.7"/>
<circle cx="904.12" cy="442.9" r="2.7"/>
<circle cx="940.64" cy="442.9" r="2.7"/>
<circle cx="977.16" cy="442.9" r="2.7"/>
<circle cx="1013.68" cy="442.9" r="2.7"/>
</g>
<path d="M765.34 742.6L769 689.25M769 689.25L772.65 614.93M772.65 614.93L776.3 580.76M776.3 580.76L779.95 553.79M779.95 553.79L783.6 525.32M783.6 525.32L785.43 510.93M785.43 510.93L787.26 494.75M787.26 494.75L790.91 623.32M790.91 623.32L794.56 649.09M794.56 649.09L803.69 670.16M803.69 670.16L812.82 680.56M812.82 680.56L821.95 685.36M821.95 685.36L831.08 689.85M831.08 689.85L840.21 693.45M840.21 693.45L849.34 697.05M849.34 697.05L858.47 700.19M858.47 700.19L867.6 702.89M867.6 702.89L876.73 705.05M876.73 705.05L885.86 707.24M885.86 707.24L894.99 709.12M894.99 709.12L904.12 711.01M904.12 711.01L913.25 712.57M913.25 712.57L922.38 714.13M922.38 714.13L931.51 715.54M931.51 715.54L940.64 716.92M940.64 716.92L949.77 717.61M949.77 717.61L958.9 718.32M958.9 718.32L968.03 719.04M968.03 719.04L977.16 719.73M977.16 719.73L986.29 720.36M986.29 720.36L995.42 720.99M995.42 720.99L1004.55 721.65M1004.55 721.65L1013.68 722.28M1013.68 722.28L1022.81 722.55M1022.81 722.55L1031.94 722.85M1031.94 722.85L1041.07 723.12M1041.07 723.12L1050.2 723.42" fill="none" stroke="#ff0000" stroke-width="2.45" stroke-linecap="round" stroke-dasharray="3.1 10.1" stroke-dashoffset="-1.2"/>
<g fill="#ff0000">
<circle cx="685" cy="742.6" r="5.6"/>
<circle cx="721.52" cy="742.6" r="5.6"/>
<circle cx="758.04" cy="742.6" r="5.6"/>
<circle cx="761.69" cy="742.6" r="5.6"/>
<circle cx="765.34" cy="742.6" r="5.6"/>
<circle cx="769" cy="689.25" r="5.6"/>
<circle cx="772.65" cy="614.93" r="5.6"/>
<circle cx="776.3" cy="580.76" r="5.6"/>
<circle cx="779.95" cy="553.79" r="5.6"/>
<circle cx="783.6" cy="525.32" r="5.6"/>
<circle cx="785.43" cy="510.93" r="5.6"/>
<circle cx="787.26" cy="494.75" r="5.6"/>
<circle cx="790.91" cy="623.32" r="5.6"/>
<circle cx="794.56" cy="649.09" r="5.6"/>
<circle cx="803.69" cy="670.16" r="5.6"/>
<circle cx="812.82" cy="680.56" r="5.6"/>
<circle cx="821.95" cy="685.36" r="5.6"/>
<circle cx="831.08" cy="689.85" r="5.6"/>
<circle cx="840.21" cy="693.45" r="5.6"/>
<circle cx="849.34" cy="697.05" r="5.6"/>
<circle cx="858.47" cy="700.19" r="5.6"/>
<circle cx="867.6" cy="702.89" r="5.6"/>
<circle cx="876.73" cy="705.05" r="5.6"/>
<circle cx="885.86" cy="707.24" r="5.6"/>
<circle cx="894.99" cy="709.12" r="5.6"/>
<circle cx="904.12" cy="711.01" r="5.6"/>
<circle cx="913.25" cy="712.57" r="5.6"/>
<circle cx="922.38" cy="714.13" r="5.6"/>
<circle cx="931.51" cy="715.54" r="5.6"/>
<circle cx="940.64" cy="716.92" r="5.6"/>
<circle cx="949.77" cy="717.61" r="5.6"/>
<circle cx="958.9" cy="718.32" r="5.6"/>
<circle cx="968.03" cy="719.04" r="5.6"/>
<circle cx="977.16" cy="719.73" r="5.6"/>
<circle cx="986.29" cy="720.36" r="5.6"/>
<circle cx="995.42" cy="720.99" r="5.6"/>
<circle cx="1004.55" cy="721.65" r="5.6"/>
<circle cx="1013.68" cy="722.28" r="5.6"/>
<circle cx="1022.81" cy="722.55" r="5.6"/>
<circle cx="1031.94" cy="722.85" r="5.6"/>
<circle cx="1041.07" cy="723.12" r="5.6"/>
<circle cx="1050.2" cy="723.42" r="5.6"/>
</g>
<g class="tk" text-anchor="middle">
<text x="685" y="782.2">0.0</text>
<text x="758.04" y="782.2">0.2</text>
<text x="831.08" y="782.2">0.4</text>
<text x="904.12" y="782.2">0.6</text>
<text x="977.16" y="782.2">0.8</text>
<text x="1050.2" y="782.2">1.0</text>
</g>
<g class="tk" text-anchor="end">
<text x="667.55" y="749.2">0.0</text>
<text x="667.55" y="689.26">0.2</text>
<text x="667.55" y="629.32">0.4</text>
<text x="667.55" y="569.38">0.6</text>
<text x="667.55" y="509.44">0.8</text>
<text x="667.55" y="449.5">1.0</text>
</g>
<text class="pl" x="683.15" y="463.7">f</text>
</g>
<g id="p-g">
<path d="M1145.3 428.55v8M1145.3 757.15v-8M1135.85 742.6h8M1519.65 742.6h-8M1181.82 428.55v4.3M1181.82 757.15v-4.3M1135.85 712.63h4.3M1519.65 712.63h-4.3M1218.34 428.55v8M1218.34 757.15v-8M1135.85 682.66h8M1519.65 682.66h-8M1254.86 428.55v4.3M1254.86 757.15v-4.3M1135.85 652.69h4.3M1519.65 652.69h-4.3M1291.38 428.55v8M1291.38 757.15v-8M1135.85 622.72h8M1519.65 622.72h-8M1327.9 428.55v4.3M1327.9 757.15v-4.3M1135.85 592.75h4.3M1519.65 592.75h-4.3M1364.42 428.55v8M1364.42 757.15v-8M1135.85 562.78h8M1519.65 562.78h-8M1400.94 428.55v4.3M1400.94 757.15v-4.3M1135.85 532.81h4.3M1519.65 532.81h-4.3M1437.46 428.55v8M1437.46 757.15v-8M1135.85 502.84h8M1519.65 502.84h-8M1473.98 428.55v4.3M1473.98 757.15v-4.3M1135.85 472.87h4.3M1519.65 472.87h-4.3M1510.5 428.55v8M1510.5 757.15v-8M1135.85 442.9h8M1519.65 442.9h-8" fill="none" stroke="#000" stroke-width="1.6"/>
<rect x="1135.85" y="428.55" width="383.8" height="328.6" fill="none" stroke="#000" stroke-width="1.8"/>
<path d="M1163.56 742.6L1200.08 742.6M1200.08 742.6L1236.6 742.6M1236.6 742.6L1291.38 742.6M1291.38 742.6L1327.9 742.6M1327.9 742.6L1364.42 742.6M1364.42 742.6L1400.94 742.6M1400.94 742.6L1437.46 742.6M1437.46 742.6L1473.98 742.6M1473.98 742.6L1510.5 742.6" fill="none" stroke="#000000" stroke-width="2.45" stroke-linecap="round" stroke-dasharray="3.1 10.1" stroke-dashoffset="-1.2"/>
<g fill="#000000">
<rect x="1158.66" y="737.7" width="9.8" height="9.8" rx="0.6"/>
<rect x="1195.18" y="737.7" width="9.8" height="9.8" rx="0.6"/>
<rect x="1231.7" y="737.7" width="9.8" height="9.8" rx="0.6"/>
<rect x="1286.48" y="737.7" width="9.8" height="9.8" rx="0.6"/>
<rect x="1323" y="737.7" width="9.8" height="9.8" rx="0.6"/>
<rect x="1359.52" y="737.7" width="9.8" height="9.8" rx="0.6"/>
<rect x="1396.04" y="737.7" width="9.8" height="9.8" rx="0.6"/>
<rect x="1432.56" y="737.7" width="9.8" height="9.8" rx="0.6"/>
<rect x="1469.08" y="737.7" width="9.8" height="9.8" rx="0.6"/>
<rect x="1505.6" y="737.7" width="9.8" height="9.8" rx="0.6"/>
</g>
<path d="M1172.69 742.6L1209.21 742.6M1209.21 742.6L1245.73 742.6M1245.73 742.6L1265.82 742.6M1265.82 742.6L1269.47 442.9" fill="none" stroke="#000000" stroke-width="2.7" stroke-linecap="round" stroke-dasharray="0.01 5.9"/>
<g fill="#fff" stroke="#000000" stroke-width="2.45">
<rect x="1169.12" y="739.02" width="7.15" height="7.15"/>
<rect x="1205.63" y="739.02" width="7.15" height="7.15"/>
<rect x="1242.15" y="739.02" width="7.15" height="7.15"/>
<rect x="1262.24" y="739.02" width="7.15" height="7.15"/>
<rect x="1265.89" y="439.32" width="7.15" height="7.15"/>
<rect x="1506.92" y="439.32" width="7.15" height="7.15"/>
</g>
<g fill="#000000">
<rect x="1289.43" y="440.95" width="3.9" height="3.9"/>
<rect x="1325.95" y="440.95" width="3.9" height="3.9"/>
<rect x="1362.47" y="440.95" width="3.9" height="3.9"/>
<rect x="1398.99" y="440.95" width="3.9" height="3.9"/>
<rect x="1435.51" y="440.95" width="3.9" height="3.9"/>
<rect x="1472.03" y="440.95" width="3.9" height="3.9"/>
</g>
<path d="M1154.43 742.6L1190.95 742.6M1190.95 742.6L1227.47 742.6M1227.47 742.6L1218.34 742.6M1218.34 742.6L1236.6 442.9" fill="none" stroke="#0000ff" stroke-width="2.65" stroke-linecap="round" stroke-dasharray="0.01 5.9"/>
<g fill="#fff" stroke="#0000ff" stroke-width="2.4">
<circle cx="1154.43" cy="742.6" r="4.3"/>
<circle cx="1190.95" cy="742.6" r="4.3"/>
<circle cx="1227.47" cy="742.6" r="4.3"/>
<circle cx="1218.34" cy="742.6" r="4.3"/>
<circle cx="1236.6" cy="442.9" r="4.3"/>
<circle cx="1510.5" cy="442.9" r="4.3"/>
</g>
<g fill="#0000ff">
<circle cx="1273.12" cy="442.9" r="2.7"/>
<circle cx="1309.64" cy="442.9" r="2.7"/>
<circle cx="1346.16" cy="442.9" r="2.7"/>
<circle cx="1382.68" cy="442.9" r="2.7"/>
<circle cx="1419.2" cy="442.9" r="2.7"/>
<circle cx="1455.72" cy="442.9" r="2.7"/>
<circle cx="1492.24" cy="442.9" r="2.7"/>
</g>
<path d="M1211.04 742.6L1214.69 618.52M1214.69 618.52L1218.34 586.16M1218.34 586.16L1227.47 638.75M1227.47 638.75L1236.6 742.6" fill="none" stroke="#ff0000" stroke-width="2.45" stroke-linecap="round" stroke-dasharray="3.1 10.1" stroke-dashoffset="-1.2"/>
<g fill="#ff0000">
<circle cx="1145.3" cy="742.6" r="5.6"/>
<circle cx="1181.82" cy="742.6" r="5.6"/>
<circle cx="1211.04" cy="742.6" r="5.6"/>
<circle cx="1214.69" cy="618.52" r="5.6"/>
<circle cx="1218.34" cy="586.16" r="5.6"/>
<circle cx="1227.47" cy="638.75" r="5.6"/>
<circle cx="1236.6" cy="742.6" r="5.6"/>
<circle cx="1245.73" cy="742.6" r="5.6"/>
<circle cx="1254.86" cy="742.6" r="5.6"/>
<circle cx="1258.51" cy="731.51" r="5.6"/>
<circle cx="1262.16" cy="728.51" r="5.6"/>
<circle cx="1265.82" cy="726.72" r="5.6"/>
<circle cx="1269.47" cy="725.73" r="5.6"/>
<circle cx="1273.12" cy="724.77" r="5.6"/>
<circle cx="1276.77" cy="724.56" r="5.6"/>
<circle cx="1280.42" cy="724.32" r="5.6"/>
<circle cx="1284.08" cy="724.62" r="5.6"/>
<circle cx="1287.73" cy="724.92" r="5.6"/>
<circle cx="1291.38" cy="725.22" r="5.6"/>
<circle cx="1309.64" cy="726.21" r="5.6"/>
<circle cx="1327.9" cy="728.3" r="5.6"/>
<circle cx="1346.16" cy="730.01" r="5.6"/>
<circle cx="1364.42" cy="731.42" r="5.6"/>
<circle cx="1382.68" cy="732.83" r="5.6"/>
<circle cx="1386.33" cy="733.04" r="5.6"/>
<circle cx="1389.98" cy="733.22" r="5.6"/>
<circle cx="1393.64" cy="733.43" r="5.6"/>
<circle cx="1397.29" cy="733.61" r="5.6"/>
<circle cx="1402.77" cy="734.24" r="5.6"/>
<circle cx="1408.24" cy="734.3" r="5.6"/>
<circle cx="1411.9" cy="734.36" r="5.6"/>
<circle cx="1415.55" cy="734.39" r="5.6"/>
<circle cx="1419.2" cy="734.45" r="5.6"/>
<circle cx="1422.85" cy="734.48" r="5.6"/>
<circle cx="1426.5" cy="734.54" r="5.6"/>
<circle cx="1430.16" cy="734.57" r="5.6"/>
<circle cx="1433.81" cy="734.6" r="5.6"/>
<circle cx="1437.46" cy="734.66" r="5.6"/>
<circle cx="1455.72" cy="734.96" r="5.6"/>
<circle cx="1473.98" cy="734.96" r="5.6"/>
<circle cx="1484.94" cy="734.66" r="5.6"/>
<circle cx="1492.61" cy="742.6" r="5.6"/>
<circle cx="1510.5" cy="742.6" r="5.6"/>
</g>
<g class="tk" text-anchor="middle">
<text x="1145.3" y="782.2">0.0</text>
<text x="1218.34" y="782.2">0.2</text>
<text x="1291.38" y="782.2">0.4</text>
<text x="1364.42" y="782.2">0.6</text>
<text x="1437.46" y="782.2">0.8</text>
<text x="1510.5" y="782.2">1.0</text>
</g>
<g class="tk" text-anchor="end">
<text x="1127.85" y="749.2">0.0</text>
<text x="1127.85" y="689.26">0.2</text>
<text x="1127.85" y="629.32">0.4</text>
<text x="1127.85" y="569.38">0.6</text>
<text x="1127.85" y="509.44">0.8</text>
<text x="1127.85" y="449.5">1.0</text>
</g>
<text class="pl" x="1143.45" y="463.7">g</text>
</g>
<g id="p-h">
<path d="M1605.8 428.55v8M1605.8 757.15v-8M1596.35 742.6h8M1980.15 742.6h-8M1642.32 428.55v4.3M1642.32 757.15v-4.3M1596.35 712.63h4.3M1980.15 712.63h-4.3M1678.84 428.55v8M1678.84 757.15v-8M1596.35 682.66h8M1980.15 682.66h-8M1715.36 428.55v4.3M1715.36 757.15v-4.3M1596.35 652.69h4.3M1980.15 652.69h-4.3M1751.88 428.55v8M1751.88 757.15v-8M1596.35 622.72h8M1980.15 622.72h-8M1788.4 428.55v4.3M1788.4 757.15v-4.3M1596.35 592.75h4.3M1980.15 592.75h-4.3M1824.92 428.55v8M1824.92 757.15v-8M1596.35 562.78h8M1980.15 562.78h-8M1861.44 428.55v4.3M1861.44 757.15v-4.3M1596.35 532.81h4.3M1980.15 532.81h-4.3M1897.96 428.55v8M1897.96 757.15v-8M1596.35 502.84h8M1980.15 502.84h-8M1934.48 428.55v4.3M1934.48 757.15v-4.3M1596.35 472.87h4.3M1980.15 472.87h-4.3M1971 428.55v8M1971 757.15v-8M1596.35 442.9h8M1980.15 442.9h-8" fill="none" stroke="#000" stroke-width="1.6"/>
<rect x="1596.35" y="428.55" width="383.8" height="328.6" fill="none" stroke="#000" stroke-width="1.8"/>
<path d="M1624.06 742.6L1660.58 742.6M1660.58 742.6L1697.1 742.6M1697.1 742.6L1733.62 742.6M1733.62 742.6L1770.14 742.6M1770.14 742.6L1806.66 742.6M1806.66 742.6L1843.18 742.6M1843.18 742.6L1879.7 742.6M1879.7 742.6L1916.22 742.6M1916.22 742.6L1952.74 742.6" fill="none" stroke="#000000" stroke-width="2.45" stroke-linecap="round" stroke-dasharray="3.1 10.1" stroke-dashoffset="-1.2"/>
<g fill="#000000">
<rect x="1619.16" y="737.7" width="9.8" height="9.8" rx="0.6"/>
<rect x="1655.68" y="737.7" width="9.8" height="9.8" rx="0.6"/>
<rect x="1692.2" y="737.7" width="9.8" height="9.8" rx="0.6"/>
<rect x="1728.72" y="737.7" width="9.8" height="9.8" rx="0.6"/>
<rect x="1765.24" y="737.7" width="9.8" height="9.8" rx="0.6"/>
<rect x="1801.76" y="737.7" width="9.8" height="9.8" rx="0.6"/>
<rect x="1838.28" y="737.7" width="9.8" height="9.8" rx="0.6"/>
<rect x="1874.8" y="737.7" width="9.8" height="9.8" rx="0.6"/>
<rect x="1911.32" y="737.7" width="9.8" height="9.8" rx="0.6"/>
<rect x="1947.84" y="737.7" width="9.8" height="9.8" rx="0.6"/>
</g>
<path d="M1633.19 742.6L1669.71 742.6M1669.71 742.6L1706.23 742.6M1706.23 742.6L1719.01 742.6M1719.01 742.6L1722.66 442.9" fill="none" stroke="#000000" stroke-width="2.7" stroke-linecap="round" stroke-dasharray="0.01 5.9"/>
<g fill="#fff" stroke="#000000" stroke-width="2.45">
<rect x="1629.62" y="739.02" width="7.15" height="7.15"/>
<rect x="1666.13" y="739.02" width="7.15" height="7.15"/>
<rect x="1702.65" y="739.02" width="7.15" height="7.15"/>
<rect x="1715.44" y="739.02" width="7.15" height="7.15"/>
<rect x="1719.09" y="439.32" width="7.15" height="7.15"/>
<rect x="1967.42" y="439.32" width="7.15" height="7.15"/>
</g>
<g fill="#000000">
<rect x="1749.93" y="440.95" width="3.9" height="3.9"/>
<rect x="1786.45" y="440.95" width="3.9" height="3.9"/>
<rect x="1822.97" y="440.95" width="3.9" height="3.9"/>
<rect x="1859.49" y="440.95" width="3.9" height="3.9"/>
<rect x="1896.01" y="440.95" width="3.9" height="3.9"/>
<rect x="1932.53" y="440.95" width="3.9" height="3.9"/>
</g>
<path d="M1614.93 742.6L1651.45 742.6M1651.45 742.6L1687.97 742.6M1687.97 742.6L1693.45 442.9" fill="none" stroke="#0000ff" stroke-width="2.65" stroke-linecap="round" stroke-dasharray="0.01 5.9"/>
<g fill="#fff" stroke="#0000ff" stroke-width="2.4">
<circle cx="1614.93" cy="742.6" r="4.3"/>
<circle cx="1651.45" cy="742.6" r="4.3"/>
<circle cx="1687.97" cy="742.6" r="4.3"/>
<circle cx="1693.45" cy="442.9" r="4.3"/>
<circle cx="1971" cy="442.9" r="4.3"/>
</g>
<g fill="#0000ff">
<circle cx="1733.62" cy="442.9" r="2.7"/>
<circle cx="1770.14" cy="442.9" r="2.7"/>
<circle cx="1806.66" cy="442.9" r="2.7"/>
<circle cx="1843.18" cy="442.9" r="2.7"/>
<circle cx="1879.7" cy="442.9" r="2.7"/>
<circle cx="1916.22" cy="442.9" r="2.7"/>
<circle cx="1952.74" cy="442.9" r="2.7"/>
</g>
<path d="M1605.8 742.6L1642.32 742.6M1642.32 742.6L1678.84 742.6M1678.84 742.6L1715.36 742.6M1715.36 742.6L1751.88 742.6M1751.88 742.6L1788.4 742.6M1788.4 742.6L1824.92 742.6M1824.92 742.6L1861.44 742.6M1861.44 742.6L1897.96 742.6M1897.96 742.6L1934.48 742.6M1934.48 742.6L1971 742.6" fill="none" stroke="#ff0000" stroke-width="2.45" stroke-linecap="round" stroke-dasharray="3.1 10.1" stroke-dashoffset="-1.2"/>
<g fill="#ff0000">
<circle cx="1605.8" cy="742.6" r="5.6"/>
<circle cx="1642.32" cy="742.6" r="5.6"/>
<circle cx="1678.84" cy="742.6" r="5.6"/>
<circle cx="1715.36" cy="742.6" r="5.6"/>
<circle cx="1751.88" cy="742.6" r="5.6"/>
<circle cx="1788.4" cy="742.6" r="5.6"/>
<circle cx="1824.92" cy="742.6" r="5.6"/>
<circle cx="1861.44" cy="742.6" r="5.6"/>
<circle cx="1897.96" cy="742.6" r="5.6"/>
<circle cx="1934.48" cy="742.6" r="5.6"/>
<circle cx="1971" cy="742.6" r="5.6"/>
</g>
<g class="tk" text-anchor="middle">
<text x="1605.8" y="782.2">0.0</text>
<text x="1678.84" y="782.2">0.2</text>
<text x="1751.88" y="782.2">0.4</text>
<text x="1824.92" y="782.2">0.6</text>
<text x="1897.96" y="782.2">0.8</text>
<text x="1971" y="782.2">1.0</text>
</g>
<g class="tk" text-anchor="end">
<text x="1588.35" y="749.2">0.0</text>
<text x="1588.35" y="689.26">0.2</text>
<text x="1588.35" y="629.32">0.4</text>
<text x="1588.35" y="569.38">0.6</text>
<text x="1588.35" y="509.44">0.8</text>
<text x="1588.35" y="449.5">1.0</text>
</g>
<text class="pl" x="1603.95" y="463.7">h</text>
</g>
<g id="p-i">
<path d="M224.8 845.05v8M224.8 1173.65v-8M215.35 1159.1h8M599.15 1159.1h-8M261.32 845.05v4.3M261.32 1173.65v-4.3M215.35 1129.13h4.3M599.15 1129.13h-4.3M297.84 845.05v8M297.84 1173.65v-8M215.35 1099.16h8M599.15 1099.16h-8M334.36 845.05v4.3M334.36 1173.65v-4.3M215.35 1069.19h4.3M599.15 1069.19h-4.3M370.88 845.05v8M370.88 1173.65v-8M215.35 1039.22h8M599.15 1039.22h-8M407.4 845.05v4.3M407.4 1173.65v-4.3M215.35 1009.25h4.3M599.15 1009.25h-4.3M443.92 845.05v8M443.92 1173.65v-8M215.35 979.28h8M599.15 979.28h-8M480.44 845.05v4.3M480.44 1173.65v-4.3M215.35 949.31h4.3M599.15 949.31h-4.3M516.96 845.05v8M516.96 1173.65v-8M215.35 919.34h8M599.15 919.34h-8M553.48 845.05v4.3M553.48 1173.65v-4.3M215.35 889.37h4.3M599.15 889.37h-4.3M590 845.05v8M590 1173.65v-8M215.35 859.4h8M599.15 859.4h-8" fill="none" stroke="#000" stroke-width="1.6"/>
<rect x="215.35" y="845.05" width="383.8" height="328.6" fill="none" stroke="#000" stroke-width="1.8"/>
<path d="M243.06 1159.1L279.58 1159.1M279.58 1159.1L316.1 1159.1M316.1 1159.1L352.62 1159.1M352.62 1159.1L389.14 1159.1M389.14 1159.1L425.66 1159.1M425.66 1159.1L462.18 1159.1M462.18 1159.1L498.7 1159.1M498.7 1159.1L535.22 1159.1M535.22 1159.1L571.74 1159.1" fill="none" stroke="#000000" stroke-width="2.45" stroke-linecap="round" stroke-dasharray="3.1 10.1" stroke-dashoffset="-1.2"/>
<g fill="#000000">
<rect x="219.9" y="1154.2" width="9.8" height="9.8" rx="0.6"/>
<rect x="238.16" y="1154.2" width="9.8" height="9.8" rx="0.6"/>
<rect x="274.68" y="1154.2" width="9.8" height="9.8" rx="0.6"/>
<rect x="311.2" y="1154.2" width="9.8" height="9.8" rx="0.6"/>
<rect x="347.72" y="1154.2" width="9.8" height="9.8" rx="0.6"/>
<rect x="384.24" y="1154.2" width="9.8" height="9.8" rx="0.6"/>
<rect x="420.76" y="1154.2" width="9.8" height="9.8" rx="0.6"/>
<rect x="457.28" y="1154.2" width="9.8" height="9.8" rx="0.6"/>
<rect x="493.8" y="1154.2" width="9.8" height="9.8" rx="0.6"/>
<rect x="530.32" y="1154.2" width="9.8" height="9.8" rx="0.6"/>
<rect x="566.84" y="1154.2" width="9.8" height="9.8" rx="0.6"/>
</g>
<path d="M252.19 1159.1L288.71 1159.1M288.71 1159.1L325.23 1159.1M325.23 1159.1L361.75 1159.1M361.75 1159.1L398.27 1159.1M398.27 1159.1L434.79 1159.1M434.79 1159.1L471.31 1159.1M471.31 1159.1L507.83 1159.1M507.83 1159.1L544.35 1159.1M544.35 1159.1L580.87 1159.1" fill="none" stroke="#000000" stroke-width="2.7" stroke-linecap="round" stroke-dasharray="0.01 5.9"/>
<g fill="#fff" stroke="#000000" stroke-width="2.45">
<rect x="248.62" y="1155.52" width="7.15" height="7.15"/>
<rect x="285.14" y="1155.52" width="7.15" height="7.15"/>
<rect x="321.66" y="1155.52" width="7.15" height="7.15"/>
<rect x="358.18" y="1155.52" width="7.15" height="7.15"/>
<rect x="394.69" y="1155.52" width="7.15" height="7.15"/>
<rect x="431.21" y="1155.52" width="7.15" height="7.15"/>
<rect x="467.74" y="1155.52" width="7.15" height="7.15"/>
<rect x="504.25" y="1155.52" width="7.15" height="7.15"/>
<rect x="540.77" y="1155.52" width="7.15" height="7.15"/>
<rect x="577.29" y="1155.52" width="7.15" height="7.15"/>
</g>
<path d="M233.93 1159.1L270.45 1159.1M270.45 1159.1L306.97 1159.1M306.97 1159.1L343.49 1159.1M343.49 1159.1L380.01 1159.1M380.01 1159.1L416.53 1159.1M416.53 1159.1L453.05 1159.1M453.05 1159.1L489.57 1159.1M489.57 1159.1L526.09 1159.1M526.09 1159.1L562.61 1159.1M562.61 1159.1L567.17 1159.1M567.17 1159.1L571.74 1159.1M571.74 1159.1L576.31 1159.1M576.31 1159.1L580.87 1159.1M580.87 1159.1L585.43 1159.1M585.43 1159.1L590 1159.1" fill="none" stroke="#0000ff" stroke-width="2.65" stroke-linecap="round" stroke-dasharray="0.01 5.9"/>
<g fill="#fff" stroke="#0000ff" stroke-width="2.4">
<circle cx="233.93" cy="1159.1" r="4.3"/>
<circle cx="270.45" cy="1159.1" r="4.3"/>
<circle cx="306.97" cy="1159.1" r="4.3"/>
<circle cx="343.49" cy="1159.1" r="4.3"/>
<circle cx="380.01" cy="1159.1" r="4.3"/>
<circle cx="416.53" cy="1159.1" r="4.3"/>
<circle cx="453.05" cy="1159.1" r="4.3"/>
<circle cx="489.57" cy="1159.1" r="4.3"/>
<circle cx="526.09" cy="1159.1" r="4.3"/>
<circle cx="562.61" cy="1159.1" r="4.3"/>
<circle cx="567.17" cy="1159.1" r="4.3"/>
<circle cx="571.74" cy="1159.1" r="4.3"/>
<circle cx="576.31" cy="1159.1" r="4.3"/>
<circle cx="580.87" cy="1159.1" r="4.3"/>
<circle cx="585.43" cy="1159.1" r="4.3"/>
<circle cx="590" cy="1159.1" r="4.3"/>
</g>
<path d="M224.8 1159.1L261.32 1159.1M261.32 1159.1L297.84 1159.1M297.84 1159.1L334.36 1159.1M334.36 1159.1L370.88 1159.1M370.88 1159.1L407.4 1159.1M407.4 1159.1L443.92 1159.1M443.92 1159.1L480.44 1159.1M480.44 1159.1L516.96 1159.1M516.96 1159.1L553.48 1159.1M553.48 1159.1L557.13 1159.1M557.13 1159.1L560.78 1159.1M560.78 1159.1L564.44 1159.1M564.44 1159.1L568.09 1159.1M568.09 1159.1L571.74 1159.1M571.74 1159.1L575.39 1159.1M575.39 1159.1L579.04 859.4M586.35 859.4L590 1026.78" fill="none" stroke="#ff0000" stroke-width="2.45" stroke-linecap="round" stroke-dasharray="3.1 10.1" stroke-dashoffset="-1.2"/>
<g fill="#ff0000">
<circle cx="224.8" cy="1159.1" r="5.6"/>
<circle cx="261.32" cy="1159.1" r="5.6"/>
<circle cx="297.84" cy="1159.1" r="5.6"/>
<circle cx="334.36" cy="1159.1" r="5.6"/>
<circle cx="370.88" cy="1159.1" r="5.6"/>
<circle cx="407.4" cy="1159.1" r="5.6"/>
<circle cx="443.92" cy="1159.1" r="5.6"/>
<circle cx="480.44" cy="1159.1" r="5.6"/>
<circle cx="516.96" cy="1159.1" r="5.6"/>
<circle cx="553.48" cy="1159.1" r="5.6"/>
<circle cx="557.13" cy="1159.1" r="5.6"/>
<circle cx="560.78" cy="1159.1" r="5.6"/>
<circle cx="564.44" cy="1159.1" r="5.6"/>
<circle cx="568.09" cy="1159.1" r="5.6"/>
<circle cx="571.74" cy="1159.1" r="5.6"/>
<circle cx="575.39" cy="1159.1" r="5.6"/>
<circle cx="579.04" cy="859.4" r="5.6"/>
<circle cx="582.7" cy="859.4" r="5.6"/>
<circle cx="586.35" cy="859.4" r="5.6"/>
<circle cx="590" cy="1026.78" r="5.6"/>
</g>
<g class="tk" text-anchor="middle">
<text x="224.8" y="1198.7">0.0</text>
<text x="297.84" y="1198.7">0.2</text>
<text x="370.88" y="1198.7">0.4</text>
<text x="443.92" y="1198.7">0.6</text>
<text x="516.96" y="1198.7">0.8</text>
<text x="590" y="1198.7">1.0</text>
</g>
<g class="tk" text-anchor="end">
<text x="207.35" y="1165.7">0.0</text>
<text x="207.35" y="1105.76">0.2</text>
<text x="207.35" y="1045.82">0.4</text>
<text x="207.35" y="985.88">0.6</text>
<text x="207.35" y="925.94">0.8</text>
<text x="207.35" y="866">1.0</text>
</g>
<text class="pl" x="222.95" y="880.2">i</text>
<path d="M253.4 890.3H299.5" fill="none" stroke="#ff0000" stroke-width="2.7" stroke-linecap="round" stroke-dasharray="3.7 9.4"/>
<circle cx="279" cy="890.3" r="5.3" fill="#ff0000"/>
<text class="lg" x="310.5" y="898"><tspan class="rho">ρ</tspan><tspan class="s1" x="321.4" y="906">P</tspan><tspan class="s2" x="330.2" y="910.2">S</tspan><tspan class="it" x="335" y="898">(EI)</tspan></text>
<path d="M253.3 930.5H303.5" fill="none" stroke="#0000ff" stroke-width="3" stroke-linecap="round" stroke-dasharray="0.01 5.9"/>
<circle cx="279" cy="930.5" r="4.2" fill="#fff" stroke="#0000ff" stroke-width="2.4"/>
<text class="lg" x="310.5" y="938.2"><tspan class="rho">ρ</tspan><tspan class="s1" x="321.4" y="946.2">P</tspan><tspan class="s2" x="330.2" y="950.4">B</tspan><tspan class="it" x="335" y="938.2">(EP)</tspan></text>
<path d="M253.4 970.7H299.5" fill="none" stroke="#000000" stroke-width="2.7" stroke-linecap="round" stroke-dasharray="3.7 9.4"/>
<rect x="274.2" y="965.9" width="9.6" height="9.6" rx="0.6" fill="#000000"/>
<text class="lg" x="310.5" y="978.4"><tspan class="rho">ρ</tspan><tspan class="s1" x="321.4" y="986.4">P</tspan><tspan class="s2" x="330.2" y="990.6">G</tspan><tspan class="it" x="335" y="978.4">(AI)</tspan></text>
<path d="M252 1010.9H303.5" fill="none" stroke="#000000" stroke-width="2.6" stroke-dasharray="2.6 3.3"/>
<rect x="275.5" y="1007.4" width="7" height="7" fill="#fff" stroke="#000000" stroke-width="2.4"/>
<text class="lg" x="310.5" y="1018.6"><tspan class="rho">ρ</tspan><tspan class="s1" x="321.4" y="1026.6">P</tspan><tspan class="s2" x="330.2" y="1030.8">R</tspan><tspan class="it" x="335" y="1018.6">(AP)</tspan></text>
</g>
<g id="p-j">
<path d="M685 845.05v8M685 1173.65v-8M675.55 1159.1h8M1059.35 1159.1h-8M721.52 845.05v4.3M721.52 1173.65v-4.3M675.55 1129.13h4.3M1059.35 1129.13h-4.3M758.04 845.05v8M758.04 1173.65v-8M675.55 1099.16h8M1059.35 1099.16h-8M794.56 845.05v4.3M794.56 1173.65v-4.3M675.55 1069.19h4.3M1059.35 1069.19h-4.3M831.08 845.05v8M831.08 1173.65v-8M675.55 1039.22h8M1059.35 1039.22h-8M867.6 845.05v4.3M867.6 1173.65v-4.3M675.55 1009.25h4.3M1059.35 1009.25h-4.3M904.12 845.05v8M904.12 1173.65v-8M675.55 979.28h8M1059.35 979.28h-8M940.64 845.05v4.3M940.64 1173.65v-4.3M675.55 949.31h4.3M1059.35 949.31h-4.3M977.16 845.05v8M977.16 1173.65v-8M675.55 919.34h8M1059.35 919.34h-8M1013.68 845.05v4.3M1013.68 1173.65v-4.3M675.55 889.37h4.3M1059.35 889.37h-4.3M1050.2 845.05v8M1050.2 1173.65v-8M675.55 859.4h8M1059.35 859.4h-8" fill="none" stroke="#000" stroke-width="1.6"/>
<rect x="675.55" y="845.05" width="383.8" height="328.6" fill="none" stroke="#000" stroke-width="1.8"/>
<path d="M712.39 1159.1L748.91 1159.1M748.91 1159.1L785.43 1159.1M785.43 1159.1L821.95 1159.1M821.95 1159.1L858.47 1159.1M858.47 1159.1L894.99 1159.1M894.99 1159.1L931.51 1159.1M931.51 1159.1L968.03 1159.1M968.03 1159.1L995.42 1159.1M995.42 1159.1L1013.68 1159.1M1013.68 1159.1L1031.94 1159.1M1031.94 1159.1L1050.2 1159.1" fill="none" stroke="#000000" stroke-width="2.45" stroke-linecap="round" stroke-dasharray="3.1 10.1" stroke-dashoffset="-1.2"/>
<g fill="#000000">
<rect x="707.49" y="1154.2" width="9.8" height="9.8" rx="0.6"/>
<rect x="744.01" y="1154.2" width="9.8" height="9.8" rx="0.6"/>
<rect x="780.53" y="1154.2" width="9.8" height="9.8" rx="0.6"/>
<rect x="817.05" y="1154.2" width="9.8" height="9.8" rx="0.6"/>
<rect x="853.57" y="1154.2" width="9.8" height="9.8" rx="0.6"/>
<rect x="890.09" y="1154.2" width="9.8" height="9.8" rx="0.6"/>
<rect x="926.61" y="1154.2" width="9.8" height="9.8" rx="0.6"/>
<rect x="963.13" y="1154.2" width="9.8" height="9.8" rx="0.6"/>
<rect x="990.52" y="1154.2" width="9.8" height="9.8" rx="0.6"/>
<rect x="1008.78" y="1154.2" width="9.8" height="9.8" rx="0.6"/>
<rect x="1027.04" y="1154.2" width="9.8" height="9.8" rx="0.6"/>
<rect x="1045.3" y="1154.2" width="9.8" height="9.8" rx="0.6"/>
</g>
<path d="M685 1159.1L721.52 1159.1M721.52 1159.1L758.04 1159.1M758.04 1159.1L794.56 1159.1M794.56 1159.1L831.08 1159.1M831.08 1159.1L867.6 1159.1M867.6 1159.1L904.12 1159.1M904.12 1159.1L922.38 1159.1M922.38 1159.1L940.64 1159.1M940.64 1159.1L951.6 1159.1M951.6 1159.1L955.25 1115.64M955.25 1115.64L958.9 859.4" fill="none" stroke="#000000" stroke-width="2.7" stroke-linecap="round" stroke-dasharray="0.01 5.9"/>
<g fill="#fff" stroke="#000000" stroke-width="2.45">
<rect x="681.42" y="1155.52" width="7.15" height="7.15"/>
<rect x="717.94" y="1155.52" width="7.15" height="7.15"/>
<rect x="754.46" y="1155.52" width="7.15" height="7.15"/>
<rect x="790.98" y="1155.52" width="7.15" height="7.15"/>
<rect x="827.5" y="1155.52" width="7.15" height="7.15"/>
<rect x="864.02" y="1155.52" width="7.15" height="7.15"/>
<rect x="900.54" y="1155.52" width="7.15" height="7.15"/>
<rect x="918.8" y="1155.52" width="7.15" height="7.15"/>
<rect x="937.06" y="1155.52" width="7.15" height="7.15"/>
<rect x="948.02" y="1155.52" width="7.15" height="7.15"/>
<rect x="951.67" y="1112.07" width="7.15" height="7.15"/>
<rect x="955.32" y="855.82" width="7.15" height="7.15"/>
<rect x="1046.62" y="855.82" width="7.15" height="7.15"/>
</g>
<g fill="#000000">
<rect x="993.47" y="857.45" width="3.9" height="3.9"/>
<rect x="1029.99" y="857.45" width="3.9" height="3.9"/>
</g>
<path d="M703.26 1159.1L739.78 1159.1M739.78 1159.1L776.3 1159.1M776.3 1159.1L812.82 1159.1M812.82 1159.1L849.34 1159.1M849.34 1159.1L885.86 1159.1M885.86 1159.1L893.16 1159.1M893.16 1159.1L900.47 1159.1M900.47 1159.1L904.12 859.4" fill="none" stroke="#0000ff" stroke-width="2.65" stroke-linecap="round" stroke-dasharray="0.01 5.9"/>
<g fill="#fff" stroke="#0000ff" stroke-width="2.4">
<circle cx="703.26" cy="1159.1" r="4.3"/>
<circle cx="739.78" cy="1159.1" r="4.3"/>
<circle cx="776.3" cy="1159.1" r="4.3"/>
<circle cx="812.82" cy="1159.1" r="4.3"/>
<circle cx="849.34" cy="1159.1" r="4.3"/>
<circle cx="885.86" cy="1159.1" r="4.3"/>
<circle cx="893.16" cy="1159.1" r="4.3"/>
<circle cx="900.47" cy="1159.1" r="4.3"/>
<circle cx="904.12" cy="859.4" r="4.3"/>
<circle cx="1050.2" cy="859.4" r="4.3"/>
</g>
<g fill="#0000ff">
<circle cx="940.64" cy="859.4" r="2.7"/>
<circle cx="977.16" cy="859.4" r="2.7"/>
<circle cx="1013.68" cy="859.4" r="2.7"/>
</g>
<path d="M694.13 1159.1L730.65 1159.1M730.65 1159.1L767.17 1159.1M767.17 1159.1L803.69 1159.1M803.69 1159.1L812.82 1159.1M812.82 1159.1L816.47 1159.1M816.47 1159.1L820.12 1159.1M820.12 1159.1L823.78 1159.1M823.78 1159.1L827.43 1159.1M827.43 1159.1L831.08 1159.1M831.08 1159.1L834.73 1100.66M834.73 1100.66L838.38 1015.24M838.38 1015.24L839.84 993.22M839.84 993.22L842.4 971.49M842.4 971.49L849.34 1074.58M849.34 1074.58L858.47 1103.06M858.47 1103.06L867.6 1110.25M867.6 1110.25L876.73 1115.19M876.73 1115.19L885.86 1119.06M885.86 1119.06L894.99 1122.12M894.99 1122.12L904.12 1125.41M904.12 1125.41L913.25 1127.18M913.25 1127.18L922.38 1129.73M922.38 1129.73L931.51 1131.23M931.51 1131.23L940.64 1132.52M940.64 1132.52L949.77 1133.81M949.77 1133.81L958.9 1134.82M958.9 1134.82L968.03 1135.57M968.03 1135.57L977.16 1136.86M977.16 1136.86L986.29 1137.49M986.29 1137.49L995.42 1138.12M995.42 1138.12L1004.55 1138.63M1004.55 1138.63L1013.68 1139.17M1013.68 1139.17L1022.81 1139.53M1022.81 1139.53L1031.94 1139.92M1031.94 1139.92L1041.07 1140.28M1041.07 1140.28L1050.2 1140.67" fill="none" stroke="#ff0000" stroke-width="2.45" stroke-linecap="round" stroke-dasharray="3.1 10.1" stroke-dashoffset="-1.2"/>
<g fill="#ff0000">
<circle cx="694.13" cy="1159.1" r="5.6"/>
<circle cx="730.65" cy="1159.1" r="5.6"/>
<circle cx="767.17" cy="1159.1" r="5.6"/>
<circle cx="803.69" cy="1159.1" r="5.6"/>
<circle cx="812.82" cy="1159.1" r="5.6"/>
<circle cx="816.47" cy="1159.1" r="5.6"/>
<circle cx="820.12" cy="1159.1" r="5.6"/>
<circle cx="823.78" cy="1159.1" r="5.6"/>
<circle cx="827.43" cy="1159.1" r="5.6"/>
<circle cx="831.08" cy="1159.1" r="5.6"/>
<circle cx="834.73" cy="1100.66" r="5.6"/>
<circle cx="838.38" cy="1015.24" r="5.6"/>
<circle cx="839.84" cy="993.22" r="5.6"/>
<circle cx="842.4" cy="971.49" r="5.6"/>
<circle cx="849.34" cy="1074.58" r="5.6"/>
<circle cx="858.47" cy="1103.06" r="5.6"/>
<circle cx="867.6" cy="1110.25" r="5.6"/>
<circle cx="876.73" cy="1115.19" r="5.6"/>
<circle cx="885.86" cy="1119.06" r="5.6"/>
<circle cx="894.99" cy="1122.12" r="5.6"/>
<circle cx="904.12" cy="1125.41" r="5.6"/>
<circle cx="913.25" cy="1127.18" r="5.6"/>
<circle cx="922.38" cy="1129.73" r="5.6"/>
<circle cx="931.51" cy="1131.23" r="5.6"/>
<circle cx="940.64" cy="1132.52" r="5.6"/>
<circle cx="949.77" cy="1133.81" r="5.6"/>
<circle cx="958.9" cy="1134.82" r="5.6"/>
<circle cx="968.03" cy="1135.57" r="5.6"/>
<circle cx="977.16" cy="1136.86" r="5.6"/>
<circle cx="986.29" cy="1137.49" r="5.6"/>
<circle cx="995.42" cy="1138.12" r="5.6"/>
<circle cx="1004.55" cy="1138.63" r="5.6"/>
<circle cx="1013.68" cy="1139.17" r="5.6"/>
<circle cx="1022.81" cy="1139.53" r="5.6"/>
<circle cx="1031.94" cy="1139.92" r="5.6"/>
<circle cx="1041.07" cy="1140.28" r="5.6"/>
<circle cx="1050.2" cy="1140.67" r="5.6"/>
</g>
<g class="tk" text-anchor="middle">
<text x="685" y="1198.7">0.0</text>
<text x="758.04" y="1198.7">0.2</text>
<text x="831.08" y="1198.7">0.4</text>
<text x="904.12" y="1198.7">0.6</text>
<text x="977.16" y="1198.7">0.8</text>
<text x="1050.2" y="1198.7">1.0</text>
</g>
<g class="tk" text-anchor="end">
<text x="667.55" y="1165.7">0.0</text>
<text x="667.55" y="1105.76">0.2</text>
<text x="667.55" y="1045.82">0.4</text>
<text x="667.55" y="985.88">0.6</text>
<text x="667.55" y="925.94">0.8</text>
<text x="667.55" y="866">1.0</text>
</g>
<text class="pl" x="683.15" y="880.2">j</text>
</g>
<g id="p-k">
<path d="M1145.3 845.05v8M1145.3 1173.65v-8M1135.85 1159.1h8M1519.65 1159.1h-8M1181.82 845.05v4.3M1181.82 1173.65v-4.3M1135.85 1129.13h4.3M1519.65 1129.13h-4.3M1218.34 845.05v8M1218.34 1173.65v-8M1135.85 1099.16h8M1519.65 1099.16h-8M1254.86 845.05v4.3M1254.86 1173.65v-4.3M1135.85 1069.19h4.3M1519.65 1069.19h-4.3M1291.38 845.05v8M1291.38 1173.65v-8M1135.85 1039.22h8M1519.65 1039.22h-8M1327.9 845.05v4.3M1327.9 1173.65v-4.3M1135.85 1009.25h4.3M1519.65 1009.25h-4.3M1364.42 845.05v8M1364.42 1173.65v-8M1135.85 979.28h8M1519.65 979.28h-8M1400.94 845.05v4.3M1400.94 1173.65v-4.3M1135.85 949.31h4.3M1519.65 949.31h-4.3M1437.46 845.05v8M1437.46 1173.65v-8M1135.85 919.34h8M1519.65 919.34h-8M1473.98 845.05v4.3M1473.98 1173.65v-4.3M1135.85 889.37h4.3M1519.65 889.37h-4.3M1510.5 845.05v8M1510.5 1173.65v-8M1135.85 859.4h8M1519.65 859.4h-8" fill="none" stroke="#000" stroke-width="1.6"/>
<rect x="1135.85" y="845.05" width="383.8" height="328.6" fill="none" stroke="#000" stroke-width="1.8"/>
<path d="M1172.69 1159.1L1209.21 1159.1M1209.21 1159.1L1245.73 1159.1M1245.73 1159.1L1282.25 1159.1M1282.25 1159.1L1318.77 1159.1M1318.77 1159.1L1355.29 1159.1M1355.29 1159.1L1391.81 1159.1M1391.81 1159.1L1428.33 1159.1M1428.33 1159.1L1464.85 1159.1M1464.85 1159.1L1501.37 1159.1" fill="none" stroke="#000000" stroke-width="2.45" stroke-linecap="round" stroke-dasharray="3.1 10.1" stroke-dashoffset="-1.2"/>
<g fill="#000000">
<rect x="1167.79" y="1154.2" width="9.8" height="9.8" rx="0.6"/>
<rect x="1204.31" y="1154.2" width="9.8" height="9.8" rx="0.6"/>
<rect x="1240.83" y="1154.2" width="9.8" height="9.8" rx="0.6"/>
<rect x="1277.35" y="1154.2" width="9.8" height="9.8" rx="0.6"/>
<rect x="1313.87" y="1154.2" width="9.8" height="9.8" rx="0.6"/>
<rect x="1350.39" y="1154.2" width="9.8" height="9.8" rx="0.6"/>
<rect x="1386.91" y="1154.2" width="9.8" height="9.8" rx="0.6"/>
<rect x="1423.43" y="1154.2" width="9.8" height="9.8" rx="0.6"/>
<rect x="1459.95" y="1154.2" width="9.8" height="9.8" rx="0.6"/>
<rect x="1496.47" y="1154.2" width="9.8" height="9.8" rx="0.6"/>
</g>
<path d="M1145.3 1159.1L1181.82 1159.1M1181.82 1159.1L1218.34 1159.1M1218.34 1159.1L1254.86 1159.1M1254.86 1159.1L1291.38 1159.1M1291.38 1159.1L1327.9 1159.1M1327.9 1159.1L1364.42 1159.1M1364.42 1159.1L1382.68 1159.1M1382.68 1159.1L1386.33 859.4" fill="none" stroke="#000000" stroke-width="2.7" stroke-linecap="round" stroke-dasharray="0.01 5.9"/>
<g fill="#fff" stroke="#000000" stroke-width="2.45">
<rect x="1141.72" y="1155.52" width="7.15" height="7.15"/>
<rect x="1178.24" y="1155.52" width="7.15" height="7.15"/>
<rect x="1214.76" y="1155.52" width="7.15" height="7.15"/>
<rect x="1251.28" y="1155.52" width="7.15" height="7.15"/>
<rect x="1287.8" y="1155.52" width="7.15" height="7.15"/>
<rect x="1324.32" y="1155.52" width="7.15" height="7.15"/>
<rect x="1360.84" y="1155.52" width="7.15" height="7.15"/>
<rect x="1379.1" y="1155.52" width="7.15" height="7.15"/>
<rect x="1382.76" y="855.82" width="7.15" height="7.15"/>
<rect x="1506.92" y="855.82" width="7.15" height="7.15"/>
</g>
<g fill="#000000">
<rect x="1417.25" y="857.45" width="3.9" height="3.9"/>
<rect x="1453.77" y="857.45" width="3.9" height="3.9"/>
<rect x="1490.29" y="857.45" width="3.9" height="3.9"/>
</g>
<path d="M1163.56 1159.1L1200.08 1159.1M1200.08 1159.1L1236.6 1159.1M1236.6 1159.1L1273.12 1159.1M1273.12 1159.1L1309.64 1159.1M1309.64 1159.1L1316.94 1159.1M1316.94 1159.1L1320.6 1159.1M1320.6 1159.1L1327.9 1159.1M1327.9 1159.1L1331.55 859.4" fill="none" stroke="#0000ff" stroke-width="2.65" stroke-linecap="round" stroke-dasharray="0.01 5.9"/>
<g fill="#fff" stroke="#0000ff" stroke-width="2.4">
<circle cx="1163.56" cy="1159.1" r="4.3"/>
<circle cx="1200.08" cy="1159.1" r="4.3"/>
<circle cx="1236.6" cy="1159.1" r="4.3"/>
<circle cx="1273.12" cy="1159.1" r="4.3"/>
<circle cx="1309.64" cy="1159.1" r="4.3"/>
<circle cx="1316.94" cy="1159.1" r="4.3"/>
<circle cx="1320.6" cy="1159.1" r="4.3"/>
<circle cx="1327.9" cy="1159.1" r="4.3"/>
<circle cx="1331.55" cy="859.4" r="4.3"/>
<circle cx="1510.5" cy="859.4" r="4.3"/>
</g>
<g fill="#0000ff">
<circle cx="1364.42" cy="859.4" r="2.7"/>
<circle cx="1400.94" cy="859.4" r="2.7"/>
<circle cx="1437.46" cy="859.4" r="2.7"/>
<circle cx="1473.98" cy="859.4" r="2.7"/>
</g>
<path d="M1154.43 1159.1L1190.95 1159.1M1190.95 1159.1L1227.47 1159.1M1227.47 1159.1L1263.99 1159.1M1263.99 1159.1L1300.51 1159.1M1300.51 1159.1L1337.03 1159.1M1337.03 1159.1L1373.55 1159.1M1373.55 1159.1L1410.07 1159.1M1410.07 1159.1L1446.59 1159.1M1446.59 1159.1L1483.11 1159.1M1483.11 1159.1L1510.5 1159.1" fill="none" stroke="#ff0000" stroke-width="2.45" stroke-linecap="round" stroke-dasharray="3.1 10.1" stroke-dashoffset="-1.2"/>
<g fill="#ff0000">
<circle cx="1154.43" cy="1159.1" r="5.6"/>
<circle cx="1190.95" cy="1159.1" r="5.6"/>
<circle cx="1227.47" cy="1159.1" r="5.6"/>
<circle cx="1263.99" cy="1159.1" r="5.6"/>
<circle cx="1300.51" cy="1159.1" r="5.6"/>
<circle cx="1337.03" cy="1159.1" r="5.6"/>
<circle cx="1373.55" cy="1159.1" r="5.6"/>
<circle cx="1410.07" cy="1159.1" r="5.6"/>
<circle cx="1446.59" cy="1159.1" r="5.6"/>
<circle cx="1483.11" cy="1159.1" r="5.6"/>
<circle cx="1510.5" cy="1159.1" r="5.6"/>
</g>
<g class="tk" text-anchor="middle">
<text x="1145.3" y="1198.7">0.0</text>
<text x="1218.34" y="1198.7">0.2</text>
<text x="1291.38" y="1198.7">0.4</text>
<text x="1364.42" y="1198.7">0.6</text>
<text x="1437.46" y="1198.7">0.8</text>
<text x="1510.5" y="1198.7">1.0</text>
</g>
<g class="tk" text-anchor="end">
<text x="1127.85" y="1165.7">0.0</text>
<text x="1127.85" y="1105.76">0.2</text>
<text x="1127.85" y="1045.82">0.4</text>
<text x="1127.85" y="985.88">0.6</text>
<text x="1127.85" y="925.94">0.8</text>
<text x="1127.85" y="866">1.0</text>
</g>
<text class="pl" x="1143.45" y="880.2">k</text>
</g>
<g id="p-l">
<path d="M1605.8 845.05v8M1605.8 1173.65v-8M1596.35 1159.1h8M1980.15 1159.1h-8M1642.32 845.05v4.3M1642.32 1173.65v-4.3M1596.35 1129.13h4.3M1980.15 1129.13h-4.3M1678.84 845.05v8M1678.84 1173.65v-8M1596.35 1099.16h8M1980.15 1099.16h-8M1715.36 845.05v4.3M1715.36 1173.65v-4.3M1596.35 1069.19h4.3M1980.15 1069.19h-4.3M1751.88 845.05v8M1751.88 1173.65v-8M1596.35 1039.22h8M1980.15 1039.22h-8M1788.4 845.05v4.3M1788.4 1173.65v-4.3M1596.35 1009.25h4.3M1980.15 1009.25h-4.3M1824.92 845.05v8M1824.92 1173.65v-8M1596.35 979.28h8M1980.15 979.28h-8M1861.44 845.05v4.3M1861.44 1173.65v-4.3M1596.35 949.31h4.3M1980.15 949.31h-4.3M1897.96 845.05v8M1897.96 1173.65v-8M1596.35 919.34h8M1980.15 919.34h-8M1934.48 845.05v4.3M1934.48 1173.65v-4.3M1596.35 889.37h4.3M1980.15 889.37h-4.3M1971 845.05v8M1971 1173.65v-8M1596.35 859.4h8M1980.15 859.4h-8" fill="none" stroke="#000" stroke-width="1.6"/>
<rect x="1596.35" y="845.05" width="383.8" height="328.6" fill="none" stroke="#000" stroke-width="1.8"/>
<path d="M1633.19 1159.1L1669.71 1159.1M1669.71 1159.1L1706.23 1159.1M1706.23 1159.1L1742.75 1159.1M1742.75 1159.1L1779.27 1159.1M1779.27 1159.1L1815.79 1159.1M1815.79 1159.1L1852.31 1159.1M1852.31 1159.1L1888.83 1159.1M1888.83 1159.1L1925.35 1159.1M1925.35 1159.1L1961.87 1159.1" fill="none" stroke="#000000" stroke-width="2.45" stroke-linecap="round" stroke-dasharray="3.1 10.1" stroke-dashoffset="-1.2"/>
<g fill="#000000">
<rect x="1628.29" y="1154.2" width="9.8" height="9.8" rx="0.6"/>
<rect x="1664.81" y="1154.2" width="9.8" height="9.8" rx="0.6"/>
<rect x="1701.33" y="1154.2" width="9.8" height="9.8" rx="0.6"/>
<rect x="1737.85" y="1154.2" width="9.8" height="9.8" rx="0.6"/>
<rect x="1774.37" y="1154.2" width="9.8" height="9.8" rx="0.6"/>
<rect x="1810.89" y="1154.2" width="9.8" height="9.8" rx="0.6"/>
<rect x="1847.41" y="1154.2" width="9.8" height="9.8" rx="0.6"/>
<rect x="1883.93" y="1154.2" width="9.8" height="9.8" rx="0.6"/>
<rect x="1920.45" y="1154.2" width="9.8" height="9.8" rx="0.6"/>
<rect x="1956.97" y="1154.2" width="9.8" height="9.8" rx="0.6"/>
</g>
<path d="M1605.8 1159.1L1642.32 1159.1M1642.32 1159.1L1678.84 1159.1M1678.84 1159.1L1715.36 1159.1M1715.36 1159.1L1751.88 1159.1M1751.88 1159.1L1788.4 1159.1M1788.4 1159.1L1824.92 1159.1M1824.92 1159.1L1828.57 1159.1M1828.57 1159.1L1832.22 859.4" fill="none" stroke="#000000" stroke-width="2.7" stroke-linecap="round" stroke-dasharray="0.01 5.9"/>
<g fill="#fff" stroke="#000000" stroke-width="2.45">
<rect x="1602.22" y="1155.52" width="7.15" height="7.15"/>
<rect x="1638.74" y="1155.52" width="7.15" height="7.15"/>
<rect x="1675.26" y="1155.52" width="7.15" height="7.15"/>
<rect x="1711.78" y="1155.52" width="7.15" height="7.15"/>
<rect x="1748.3" y="1155.52" width="7.15" height="7.15"/>
<rect x="1784.82" y="1155.52" width="7.15" height="7.15"/>
<rect x="1821.34" y="1155.52" width="7.15" height="7.15"/>
<rect x="1825" y="1155.52" width="7.15" height="7.15"/>
<rect x="1828.65" y="855.82" width="7.15" height="7.15"/>
<rect x="1967.42" y="855.82" width="7.15" height="7.15"/>
</g>
<g fill="#000000">
<rect x="1859.49" y="857.45" width="3.9" height="3.9"/>
<rect x="1896.01" y="857.45" width="3.9" height="3.9"/>
<rect x="1932.53" y="857.45" width="3.9" height="3.9"/>
</g>
<path d="M1624.06 1159.1L1660.58 1159.1M1660.58 1159.1L1697.1 1159.1M1697.1 1159.1L1733.62 1159.1M1733.62 1159.1L1751.88 1159.1M1751.88 1159.1L1770.14 1159.1M1770.14 1159.1L1773.79 1159.1M1773.79 1159.1L1777.44 859.4" fill="none" stroke="#0000ff" stroke-width="2.65" stroke-linecap="round" stroke-dasharray="0.01 5.9"/>
<g fill="#fff" stroke="#0000ff" stroke-width="2.4">
<circle cx="1624.06" cy="1159.1" r="4.3"/>
<circle cx="1660.58" cy="1159.1" r="4.3"/>
<circle cx="1697.1" cy="1159.1" r="4.3"/>
<circle cx="1733.62" cy="1159.1" r="4.3"/>
<circle cx="1751.88" cy="1159.1" r="4.3"/>
<circle cx="1770.14" cy="1159.1" r="4.3"/>
<circle cx="1773.79" cy="1159.1" r="4.3"/>
<circle cx="1777.44" cy="859.4" r="4.3"/>
<circle cx="1971" cy="859.4" r="4.3"/>
</g>
<g fill="#0000ff">
<circle cx="1806.66" cy="859.4" r="2.7"/>
<circle cx="1843.18" cy="859.4" r="2.7"/>
<circle cx="1879.7" cy="859.4" r="2.7"/>
<circle cx="1916.22" cy="859.4" r="2.7"/>
<circle cx="1952.74" cy="859.4" r="2.7"/>
</g>
<path d="M1614.93 1159.1L1651.45 1159.1M1651.45 1159.1L1687.97 1159.1M1687.97 1159.1L1724.49 1159.1M1724.49 1159.1L1761.01 1159.1M1761.01 1159.1L1797.53 1159.1M1797.53 1159.1L1834.05 1159.1M1834.05 1159.1L1870.57 1159.1M1870.57 1159.1L1907.09 1159.1M1907.09 1159.1L1943.61 1159.1M1943.61 1159.1L1971 1159.1" fill="none" stroke="#ff0000" stroke-width="2.45" stroke-linecap="round" stroke-dasharray="3.1 10.1" stroke-dashoffset="-1.2"/>
<g fill="#ff0000">
<circle cx="1614.93" cy="1159.1" r="5.6"/>
<circle cx="1651.45" cy="1159.1" r="5.6"/>
<circle cx="1687.97" cy="1159.1" r="5.6"/>
<circle cx="1724.49" cy="1159.1" r="5.6"/>
<circle cx="1761.01" cy="1159.1" r="5.6"/>
<circle cx="1797.53" cy="1159.1" r="5.6"/>
<circle cx="1834.05" cy="1159.1" r="5.6"/>
<circle cx="1870.57" cy="1159.1" r="5.6"/>
<circle cx="1907.09" cy="1159.1" r="5.6"/>
<circle cx="1943.61" cy="1159.1" r="5.6"/>
<circle cx="1971" cy="1159.1" r="5.6"/>
</g>
<g class="tk" text-anchor="middle">
<text x="1605.8" y="1198.7">0.0</text>
<text x="1678.84" y="1198.7">0.2</text>
<text x="1751.88" y="1198.7">0.4</text>
<text x="1824.92" y="1198.7">0.6</text>
<text x="1897.96" y="1198.7">0.8</text>
<text x="1971" y="1198.7">1.0</text>
</g>
<g class="tk" text-anchor="end">
<text x="1588.35" y="1165.7">0.0</text>
<text x="1588.35" y="1105.76">0.2</text>
<text x="1588.35" y="1045.82">0.4</text>
<text x="1588.35" y="985.88">0.6</text>
<text x="1588.35" y="925.94">0.8</text>
<text x="1588.35" y="866">1.0</text>
</g>
<text class="pl" x="1603.95" y="880.2">l</text>
</g>
<text class="gi" font-size="33.5" transform="translate(2.4 203.9) scale(1.13 1)">α</text>
<text class="big" x="24.2" y="203.8"> = 0.05</text>
<text class="gi" font-size="33.5" transform="translate(-1.2 605) scale(1.13 1)">α</text>
<text class="big" x="20.6" y="604.9"> = 0.50</text>
<text class="gi" font-size="33.5" transform="translate(0.9 1014.3) scale(1.13 1)">α</text>
<text class="big" x="22.7" y="1014.2"> = 0.95</text>
<text class="yt" transform="translate(168.9 175.65) rotate(-90)" text-anchor="middle">frequency of punisher</text>
<text class="yt" transform="translate(168.9 593.35) rotate(-90)" text-anchor="middle">frequency of punisher</text>
<text class="yt" transform="translate(168.9 1009.85) rotate(-90)" text-anchor="middle">frequency of punisher</text>
<text class="xt" x="1050.5" y="411.4">fine,</text>
<text class="gb" transform="translate(1128.7 411.4) scale(1.2 1)">β</text>
<text class="xt" x="1045.7" y="827.75">fine,</text>
<text class="gb" transform="translate(1123.9 827.75) scale(1.2 1)">β</text>
<text class="xt" x="1045.7" y="1244.3">fine,</text>
<text class="gb" transform="translate(1123.9 1244.3) scale(1.2 1)">β</text>
<text class="big" x="328.6" y="1281.7">r = 2.0</text>
<text class="big" x="790.4" y="1281.7">r = 3.5</text>
<text class="big" x="1269" y="1281.7">r = 3.8</text>
<text class="big" x="1711.2" y="1281.7">r = 4.0</text>
<path d="M208.6 1292H1950" fill="none" stroke="#000" stroke-width="4.4" stroke-linecap="round"/>
<path d="M1980 1292L1944.5 1283.2L1952.5 1292L1944.5 1300.8Z" fill="#000" stroke="#000" stroke-width="1.5" stroke-linejoin="round"/>
<text class="syn" x="1629.4" y="1339.7"><tspan letter-spacing="-0.75">synergy </tspan><tspan x="1796.3">factor, </tspan><tspan x="1936.5" font-style="italic">r</tspan></text>
</svg>
</body></html>
